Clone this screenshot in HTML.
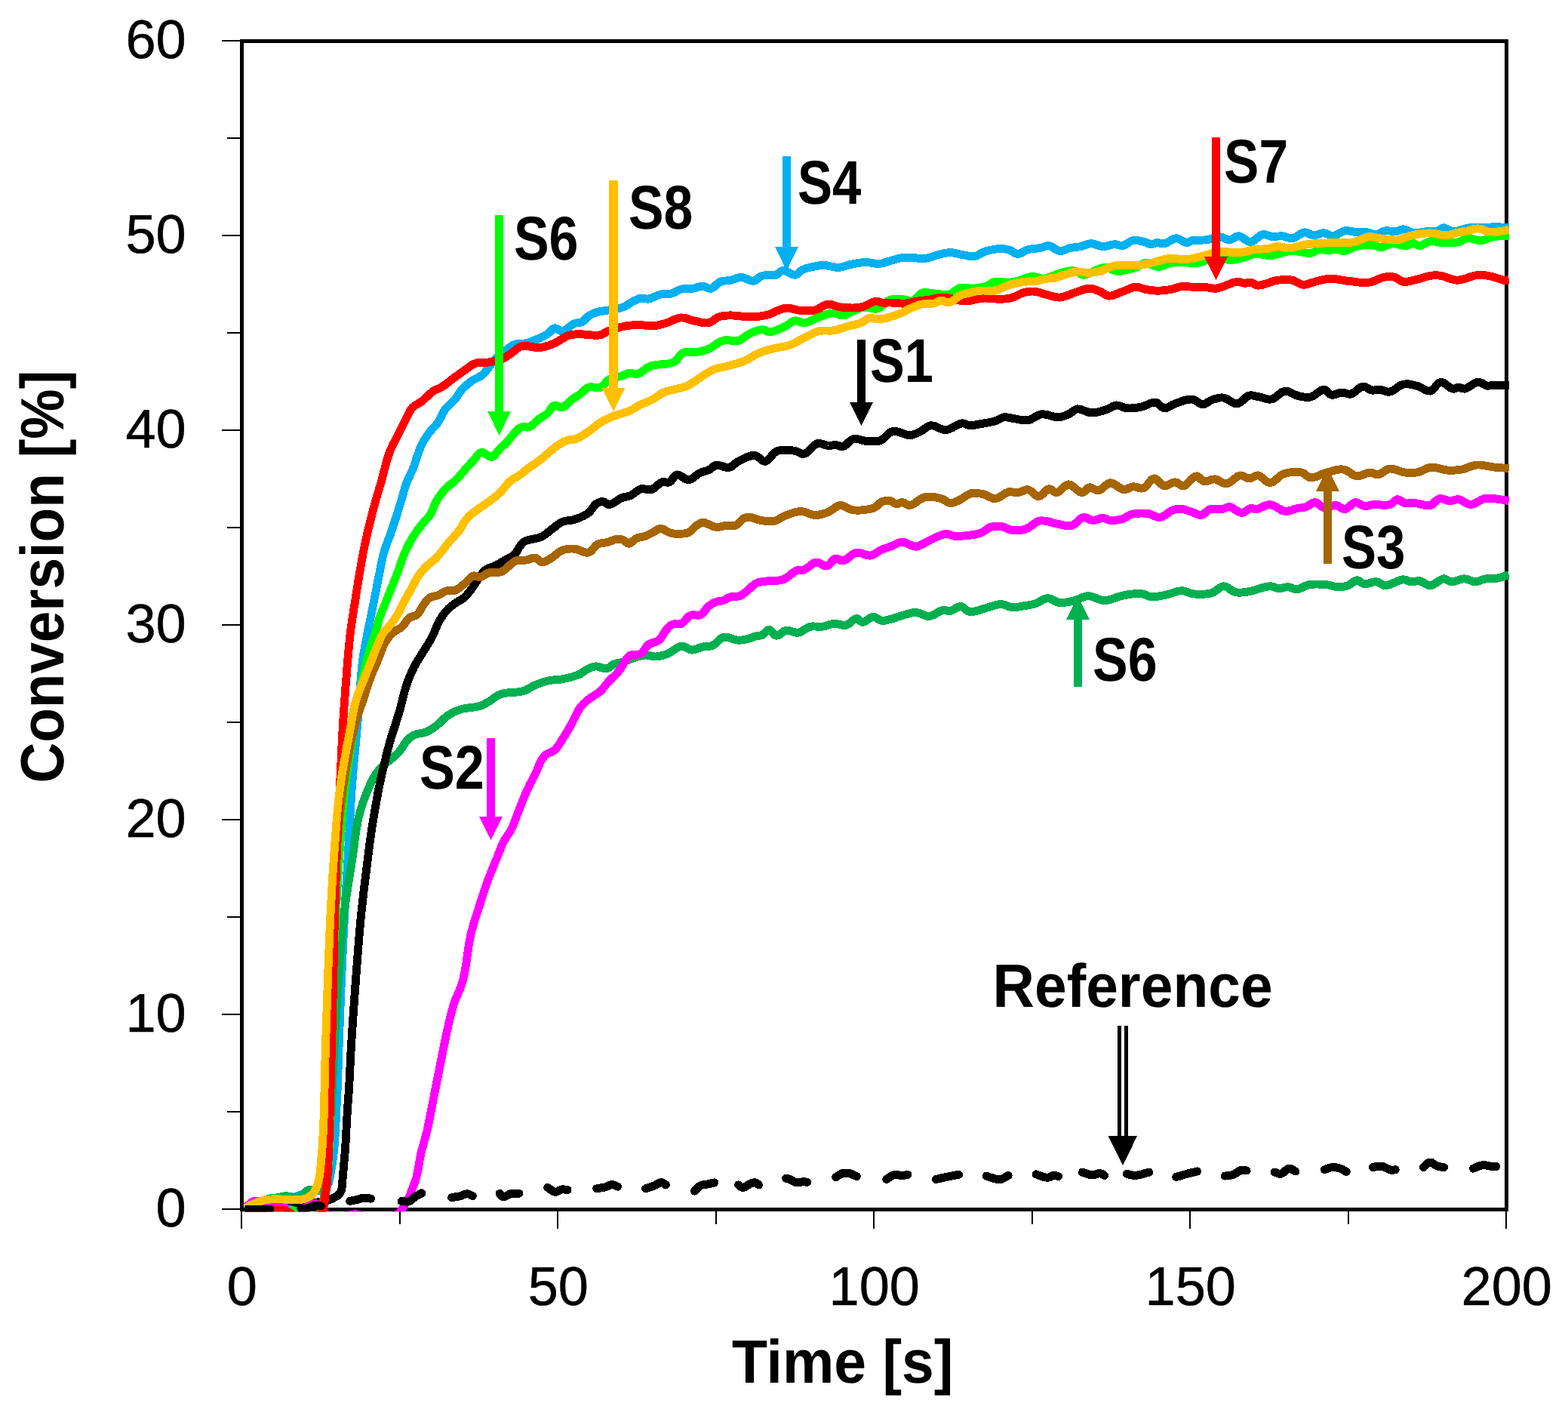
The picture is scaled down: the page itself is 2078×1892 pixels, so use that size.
<!DOCTYPE html>
<html lang="en">
<head>
<meta charset="utf-8">
<title>Conversion vs Time</title>
<style>
html,body{margin:0;padding:0;background:#fff;}
body{width:2078px;height:1892px;overflow:hidden;}
svg{display:block;}
text{font-family:"Liberation Sans",sans-serif;fill:#000;}
.b{font-weight:bold;}
</style>
</head>
<body>
<svg width="2078" height="1892" viewBox="0 0 2078 1892" shape-rendering="crispEdges">
<rect width="2078" height="1892" fill="#fff"/>
<defs><clipPath id="pc"><rect x="318" y="40" width="1682" height="1565.4"/></clipPath></defs>
<g stroke="#000" fill="none">
<rect x="320.5" y="54.5" width="1676.0" height="1548.0" stroke-width="5.0"/>
<path stroke-width="2" d="M294.0 1602.0H320.5M301.0 1473.0H320.5M294.0 1344.0H320.5M301.0 1215.0H320.5M294.0 1086.0H320.5M301.0 957.0H320.5M294.0 828.0H320.5M301.0 699.0H320.5M294.0 570.0H320.5M301.0 441.0H320.5M294.0 312.0H320.5M301.0 183.0H320.5M294.0 54.0H320.5M320.0 1602.5V1628.0M529.5 1602.5V1622.0M739.0 1602.5V1628.0M948.5 1602.5V1622.0M1158.0 1602.5V1628.0M1367.5 1602.5V1622.0M1577.0 1602.5V1628.0M1786.5 1602.5V1622.0M1996.0 1602.5V1628.0"/>
</g>
<g fill="none" stroke-width="10.9" stroke-linejoin="round" stroke-linecap="butt" clip-path="url(#pc)">
<polyline stroke="#00B0F0" points="326.8,1599.3 331.2,1598.4 335.6,1597.5 340.0,1596.6 344.4,1595.7 348.7,1594.8 352.7,1594.0 356.7,1593.2 360.6,1592.4 364.4,1591.6 368.0,1591.0 371.1,1590.5 374.1,1590.2 377.0,1589.9 379.7,1589.5 382.2,1589.0 383.9,1588.5 385.5,1587.8 387.0,1587.1 388.4,1586.4 390.0,1585.8 391.5,1585.3 393.1,1584.8 394.7,1584.4 396.3,1583.9 397.7,1583.5 398.8,1583.1 399.8,1582.7 400.8,1582.3 401.8,1581.9 402.9,1581.5 404.3,1581.1 405.8,1580.6 407.4,1580.1 409.0,1579.7 410.6,1579.3 412.3,1579.0 414.2,1578.8 416.0,1578.6 417.8,1578.4 419.6,1578.1 421.5,1577.7 423.4,1577.3 425.2,1576.8 427.0,1576.2 428.6,1575.5 430.0,1574.7 431.3,1573.7 432.5,1572.7 433.5,1571.6 434.5,1570.3 435.2,1568.9 435.7,1567.3 436.1,1565.6 436.4,1563.7 436.9,1561.5 438.0,1555.7 439.3,1548.5 440.5,1540.3 441.7,1531.8 442.7,1523.3 443.6,1513.0 444.3,1501.9 444.9,1490.7 445.4,1479.8 445.9,1470.0 446.2,1463.6 446.5,1457.8 446.8,1452.3 447.0,1446.5 447.3,1440.0 447.7,1430.0 448.0,1419.1 448.4,1407.6 448.8,1395.6 449.2,1383.3 449.8,1367.7 450.4,1351.2 451.0,1334.2 451.7,1317.0 452.4,1300.0 453.2,1282.7 454.0,1265.2 454.8,1247.7 455.7,1230.3 456.6,1213.0 457.5,1196.3 458.5,1179.8 459.5,1163.2 460.5,1146.7 461.5,1130.0 462.4,1112.7 463.3,1095.2 464.2,1077.7 465.2,1060.3 466.3,1043.0 467.6,1026.3 469.1,1009.6 470.7,993.1 472.2,976.5 473.7,960.0 475.0,942.9 476.3,925.2 477.5,907.8 478.8,891.7 480.2,877.9 481.1,871.0 482.1,864.9 483.1,859.4 484.1,853.9 485.2,848.2 486.3,842.2 487.5,836.3 488.7,830.3 489.9,824.4 491.1,818.4 492.3,812.5 493.5,806.5 494.7,800.6 495.9,794.6 497.1,788.7 498.3,782.7 499.4,776.7 500.6,770.7 501.8,764.8 503.0,758.9 504.1,753.2 505.2,747.5 506.4,741.9 507.6,736.4 509.0,731.1 510.4,726.6 512.0,722.2 513.6,717.9 515.3,713.7 516.9,709.3 518.5,704.6 520.1,699.9 521.7,695.1 523.3,690.3 524.8,685.5 526.5,680.3 528.1,675.1 529.7,669.8 531.3,664.6 532.8,659.7 534.0,655.5 535.1,651.5 536.2,647.6 537.4,643.7 538.7,639.8 540.4,635.8 542.3,631.8 544.2,627.8 546.0,623.9 547.7,620.1 548.8,617.0 549.8,614.1 550.7,611.2 551.6,608.3 552.6,605.4 553.7,602.2 554.8,599.0 555.9,595.8 557.2,592.7 558.6,589.5 560.3,586.3 562.2,583.0 564.2,579.8 566.3,576.7 568.5,573.7 570.8,570.8 573.2,568.1 575.7,565.4 578.1,562.7 580.4,559.8 582.5,556.3 584.4,552.6 586.2,548.8 588.2,545.2 590.3,541.9 592.6,539.3 595.0,536.9 597.5,534.7 599.9,532.4 602.2,530.0 604.3,527.3 606.2,524.5 608.0,521.6 610.0,518.8 612.1,516.1 614.7,513.5 617.4,511.0 620.2,508.6 623.1,506.3 626.0,504.2 628.8,502.5 631.8,501.0 634.7,499.5 637.5,498.0 639.9,496.3 641.8,494.5 643.3,492.5 644.8,490.5 646.3,488.4 647.9,486.3 649.7,484.0 651.6,481.6 653.6,479.1 655.6,476.7 657.8,474.4 660.0,472.3 662.4,470.3 664.8,468.3 667.2,466.4 669.7,464.5 672.0,462.7 674.3,461.0 676.6,459.3 679.0,457.8 681.6,456.6 684.6,455.8 687.7,455.5 691.0,455.4 694.3,455.1 697.5,454.6 700.7,453.7 704.0,452.5 707.2,451.3 710.3,450.0 713.3,448.7 715.9,447.5 718.3,446.4 720.7,445.3 723.0,444.0 725.2,442.7 727.3,441.0 729.3,439.1 731.2,437.1 733.1,435.6 735.2,434.8 737.1,435.0 739.0,436.0 740.9,437.3 743.0,438.4 745.1,438.7 748.1,437.7 751.3,435.6 754.7,433.0 757.9,430.5 761.0,428.8 763.1,428.2 765.1,427.9 767.1,427.8 769.0,427.5 770.9,426.8 772.8,425.6 774.6,423.9 776.3,422.1 778.1,420.4 780.0,418.9 781.9,417.7 783.9,416.6 785.9,415.6 787.9,414.7 789.9,413.9 791.8,413.4 793.6,413.0 795.5,412.7 797.6,412.4 799.8,411.9 804.4,411.2 809.7,410.4 815.4,409.5 820.9,408.4 825.6,407.0 828.8,405.6 831.7,403.9 834.4,402.1 837.0,400.5 839.5,399.0 841.6,398.0 843.6,397.1 845.5,396.2 847.5,395.5 849.4,395.1 851.4,395.1 853.3,395.4 855.2,395.8 857.3,396.1 859.4,396.1 862.3,395.3 865.5,394.0 868.8,392.5 872.0,391.1 875.2,390.1 878.1,389.7 880.9,389.6 883.6,389.7 886.4,389.6 889.1,389.1 891.9,388.2 894.7,386.9 897.4,385.4 900.1,384.1 903.0,383.2 906.1,382.7 909.4,382.5 912.6,382.5 915.8,382.5 918.9,382.2 921.4,381.6 923.8,380.8 926.1,380.1 928.4,379.5 930.8,379.2 933.2,379.6 935.6,380.5 938.0,381.5 940.4,382.2 942.7,382.2 945.1,381.1 947.4,379.2 949.7,376.9 952.1,374.8 954.6,373.3 957.2,372.5 960.0,372.1 962.8,371.9 965.7,371.7 968.5,371.3 971.3,370.5 974.0,369.4 976.8,368.4 979.6,367.6 982.4,367.3 985.5,367.9 988.8,369.2 992.1,370.8 995.3,372.0 998.3,372.3 1000.7,371.5 1003.0,370.0 1005.3,368.2 1007.6,366.5 1010.2,365.3 1013.5,364.8 1017.3,364.7 1021.1,364.9 1024.8,364.9 1028.0,364.3 1030.2,363.3 1032.1,361.8 1034.0,360.3 1035.8,359.0 1037.9,358.4 1040.9,358.9 1044.2,360.5 1047.6,362.4 1050.9,363.9 1053.8,364.3 1056.0,363.6 1057.9,362.2 1059.7,360.5 1061.6,358.7 1063.7,357.4 1066.3,356.3 1069.0,355.4 1071.9,354.7 1074.8,354.0 1077.6,353.4 1080.3,352.8 1083.0,352.3 1085.8,351.8 1088.6,351.5 1091.5,351.4 1095.3,351.8 1099.3,352.6 1103.4,353.5 1107.5,354.2 1111.3,354.4 1114.6,354.0 1117.7,353.2 1120.8,352.2 1124.0,351.3 1127.2,350.4 1131.1,349.7 1135.0,348.9 1139.1,348.2 1143.1,347.7 1147.1,347.5 1150.7,347.7 1154.4,348.2 1157.9,348.9 1161.5,349.4 1164.9,349.4 1168.0,349.0 1171.0,348.3 1174.0,347.3 1177.0,346.4 1180.0,345.5 1183.2,344.6 1186.4,343.7 1189.6,342.8 1192.7,342.0 1195.9,341.5 1198.7,341.3 1201.4,341.2 1204.2,341.3 1206.9,341.4 1209.8,341.5 1212.9,341.7 1216.0,342.1 1219.2,342.4 1222.4,342.6 1225.6,342.5 1229.2,341.9 1232.8,340.9 1236.4,339.7 1240.0,338.5 1243.5,337.5 1246.7,336.7 1249.9,335.9 1253.1,335.2 1256.2,334.8 1259.4,334.6 1262.5,334.8 1265.7,335.4 1268.9,336.1 1272.1,336.9 1275.2,337.5 1278.4,338.1 1281.6,338.8 1284.8,339.4 1288.0,339.7 1291.1,339.5 1294.3,338.7 1297.4,337.2 1300.5,335.5 1303.7,333.9 1307.0,332.6 1310.9,331.6 1315.0,330.8 1319.1,330.1 1323.1,329.7 1326.8,329.6 1329.4,329.7 1331.9,330.0 1334.2,330.4 1336.5,330.9 1338.7,331.6 1340.8,332.5 1342.7,333.8 1344.6,335.1 1346.6,336.1 1348.7,336.5 1351.2,336.1 1354.0,334.9 1356.8,333.3 1359.6,331.7 1362.5,330.6 1365.7,330.0 1368.9,329.6 1372.2,329.3 1375.4,329.0 1378.4,328.6 1380.9,328.0 1383.3,327.1 1385.6,326.3 1387.9,325.7 1390.3,325.6 1393.1,326.5 1395.8,328.2 1398.6,330.1 1401.4,331.7 1404.2,332.6 1406.9,332.4 1409.7,331.7 1412.5,330.6 1415.3,329.4 1418.1,328.6 1420.9,328.1 1423.6,327.8 1426.4,327.5 1429.2,327.1 1432.0,326.6 1434.8,325.8 1437.5,324.8 1440.3,323.8 1443.0,323.0 1445.9,322.7 1449.0,323.0 1452.1,324.0 1455.3,325.1 1458.5,326.1 1461.7,326.6 1465.0,326.4 1468.3,325.6 1471.5,324.7 1474.7,324.0 1477.6,323.7 1479.7,323.9 1481.7,324.5 1483.6,325.1 1485.5,325.6 1487.5,325.6 1490.2,324.8 1492.9,323.2 1495.7,321.3 1498.5,319.7 1501.4,318.7 1504.6,318.5 1507.9,318.7 1511.3,319.3 1514.5,320.0 1517.3,320.7 1519.1,321.3 1520.7,322.0 1522.2,322.8 1523.7,323.4 1525.2,323.7 1526.8,323.5 1528.4,323.1 1529.9,322.5 1531.5,322.0 1533.2,321.7 1535.1,321.7 1537.0,322.1 1538.9,322.5 1541.0,322.8 1543.1,322.7 1546.1,321.7 1549.3,319.9 1552.5,318.0 1555.8,316.4 1559.0,315.7 1561.9,316.3 1564.8,317.8 1567.7,319.6 1570.4,321.0 1572.9,321.7 1574.4,321.4 1575.7,320.8 1577.0,320.0 1578.4,319.3 1580.0,318.7 1583.3,318.3 1587.3,318.1 1591.6,318.1 1595.9,318.0 1599.8,317.7 1603.2,317.0 1606.4,315.9 1609.5,314.8 1612.6,314.0 1615.7,313.7 1618.6,314.2 1621.4,315.2 1624.2,316.4 1626.9,317.4 1629.6,317.7 1632.0,317.1 1634.4,315.8 1636.7,314.4 1639.1,313.2 1641.5,312.7 1644.6,313.7 1647.7,315.7 1651.0,318.0 1654.2,320.0 1657.4,320.7 1660.6,319.6 1663.8,317.3 1666.9,314.6 1670.1,312.1 1673.3,310.8 1676.0,310.7 1678.9,311.4 1681.7,312.3 1684.4,313.2 1687.1,313.7 1689.6,313.7 1691.9,313.4 1694.3,313.0 1696.6,312.8 1699.0,312.7 1701.8,313.2 1704.5,314.1 1707.3,315.0 1710.1,315.7 1712.9,315.7 1716.1,314.7 1719.3,312.7 1722.6,310.5 1725.7,308.7 1728.8,307.8 1731.3,308.1 1733.6,309.0 1735.9,310.2 1738.3,311.2 1740.7,311.7 1743.4,311.5 1746.2,310.7 1749.1,309.8 1751.9,309.0 1754.6,308.8 1757.0,309.3 1759.4,310.3 1761.7,311.5 1764.1,312.4 1766.5,312.7 1769.5,312.0 1772.7,310.4 1775.9,308.5 1779.1,306.8 1782.4,305.8 1785.5,305.7 1788.7,306.1 1791.9,306.7 1795.1,307.4 1798.3,307.8 1801.1,307.8 1803.9,307.7 1806.7,307.6 1809.5,307.6 1812.1,307.8 1814.6,308.3 1817.0,309.1 1819.4,310.0 1821.7,310.6 1824.0,310.8 1826.4,310.2 1828.8,309.1 1831.1,307.7 1833.5,306.5 1836.0,305.8 1838.7,305.7 1841.5,306.0 1844.4,306.4 1847.2,306.8 1849.8,306.8 1851.9,306.3 1853.9,305.5 1855.8,304.7 1857.7,304.0 1859.8,303.8 1862.4,304.3 1865.1,305.4 1867.9,306.8 1870.8,308.1 1873.7,308.8 1876.7,308.8 1879.9,308.5 1883.1,307.9 1886.3,307.2 1889.5,306.8 1892.8,306.6 1896.2,306.6 1899.5,306.5 1902.6,306.3 1905.4,305.8 1907.2,305.1 1908.7,304.1 1910.2,303.0 1911.7,302.2 1913.3,301.8 1915.5,302.3 1917.7,303.4 1920.1,304.8 1922.6,306.1 1925.2,306.8 1929.2,306.5 1933.5,305.5 1938.1,304.1 1942.6,302.7 1947.1,301.8 1951.1,301.6 1955.2,301.6 1959.3,301.7 1963.2,301.8 1966.9,301.8 1969.7,301.7 1972.2,301.4 1974.8,301.1 1977.3,300.9 1980.1,300.8 1983.8,300.8 1987.7,300.9 1991.8,301.1 1995.9,301.4 1999.9,301.6"/>
<polyline stroke="#00B050" points="326.8,1599.3 330.0,1598.8 333.3,1598.4 336.6,1597.9 339.6,1597.3 342.2,1596.4 343.8,1595.5 345.0,1594.4 346.2,1593.2 347.3,1592.1 348.7,1591.2 350.3,1590.4 352.1,1589.7 353.9,1589.0 355.8,1588.5 357.7,1588.0 359.7,1587.6 361.7,1587.3 363.8,1587.1 365.9,1587.0 368.0,1586.7 370.3,1586.3 372.6,1585.8 374.9,1585.3 377.2,1584.9 379.6,1584.8 382.5,1585.0 385.5,1585.6 388.5,1586.3 391.3,1586.7 393.8,1586.7 395.3,1586.3 396.6,1585.8 397.8,1585.1 399.0,1584.3 400.3,1583.5 401.8,1582.3 403.3,1580.8 404.8,1579.3 406.4,1578.0 408.0,1577.0 409.5,1576.6 411.0,1576.5 412.6,1576.6 414.1,1576.6 415.8,1576.4 417.8,1575.9 420.0,1575.4 422.1,1574.7 424.2,1573.9 426.1,1572.9 427.6,1571.8 429.1,1570.6 430.4,1569.3 431.6,1567.9 432.5,1566.4 433.1,1565.3 433.6,1564.2 433.9,1563.0 434.2,1561.7 434.5,1560.0 435.0,1554.7 435.4,1547.8 435.6,1539.9 435.9,1531.6 436.2,1523.3 436.8,1513.0 437.5,1502.0 438.2,1490.7 438.9,1479.8 439.4,1470.0 439.7,1463.6 439.8,1457.8 440.0,1452.3 440.2,1446.5 440.4,1440.0 440.8,1430.0 441.3,1419.1 441.8,1407.6 442.4,1395.6 443.1,1383.3 444.0,1367.7 445.0,1351.2 446.1,1334.2 447.3,1317.0 448.5,1300.0 449.7,1282.7 451.0,1265.2 452.3,1247.7 453.9,1230.3 455.7,1213.0 457.9,1195.6 460.6,1177.7 463.3,1160.2 465.9,1144.0 468.0,1130.0 469.0,1122.7 469.8,1116.1 470.6,1110.0 471.4,1104.4 472.2,1098.9 472.9,1094.9 473.6,1091.1 474.3,1087.5 475.0,1084.0 475.9,1080.4 476.9,1076.7 477.9,1073.0 479.1,1069.3 480.2,1065.6 481.5,1061.9 482.9,1058.1 484.3,1054.4 485.8,1050.6 487.3,1046.9 488.9,1043.3 490.4,1039.8 492.0,1036.4 493.7,1033.0 495.4,1029.7 497.2,1026.7 498.9,1024.3 500.7,1022.0 502.5,1019.8 504.4,1017.7 506.5,1015.6 509.0,1013.3 511.7,1011.1 514.6,1008.8 517.4,1006.6 520.0,1004.4 522.3,1002.3 524.6,1000.2 526.7,998.1 528.8,996.0 530.8,993.7 532.5,991.4 534.0,988.9 535.5,986.4 537.0,984.0 538.7,981.8 540.5,980.0 542.3,978.2 544.3,976.6 546.4,975.2 548.7,973.9 551.5,972.8 554.7,972.1 558.1,971.6 561.4,970.9 564.5,969.9 567.4,968.6 570.2,967.1 573.0,965.4 575.7,963.5 578.4,961.5 581.5,958.9 584.6,955.9 587.7,952.8 590.9,949.9 594.3,947.4 597.6,945.4 601.1,943.6 604.6,942.1 608.3,940.7 612.1,939.4 616.8,938.4 621.8,937.7 626.9,937.2 631.7,936.5 636.0,935.5 638.6,934.5 641.0,933.4 643.2,932.2 645.5,930.9 647.9,929.5 650.8,927.6 653.7,925.5 656.8,923.3 660.1,921.3 663.7,919.6 669.2,918.3 675.4,917.7 681.8,917.3 688.0,916.7 693.5,915.6 697.0,914.3 700.2,912.7 703.2,910.9 706.2,909.2 709.4,907.7 712.8,906.3 716.4,905.0 720.0,903.7 723.6,902.6 727.2,901.7 730.7,901.2 734.3,900.8 737.8,900.6 741.4,900.3 745.1,899.8 749.4,898.9 754.0,897.9 758.6,896.7 762.9,895.3 766.9,893.8 769.8,892.3 772.5,890.6 775.1,888.8 777.5,887.2 780.0,885.9 782.0,885.0 783.9,884.2 785.9,883.6 787.8,883.1 789.9,882.9 792.6,883.2 795.4,884.1 798.4,885.1 801.2,885.8 803.8,885.9 805.9,885.2 807.9,883.9 809.8,882.5 811.7,881.0 813.7,879.9 816.0,879.1 818.3,878.6 820.7,878.1 823.2,877.6 825.6,876.9 828.3,876.0 831.1,875.0 833.8,874.0 836.7,872.9 839.5,872.0 842.6,871.0 845.8,870.0 849.1,869.1 852.3,868.4 855.4,868.0 858.2,868.2 861.0,868.7 863.7,869.3 866.5,869.9 869.3,870.0 872.4,869.7 875.6,869.1 878.8,868.3 882.0,867.2 885.2,866.0 888.7,864.1 892.4,861.7 896.0,859.1 899.5,857.1 903.0,856.1 905.9,856.5 908.6,857.6 911.4,859.1 914.1,860.5 916.9,861.1 919.7,860.8 922.4,860.0 925.2,859.0 928.0,857.9 930.8,857.1 933.6,856.7 936.4,856.5 939.2,856.3 942.0,856.0 944.7,855.1 947.5,853.3 950.2,850.7 952.8,848.0 955.5,845.6 958.6,844.2 962.3,844.1 966.3,845.0 970.5,846.3 974.6,847.6 978.4,848.2 981.4,848.1 984.3,847.8 987.2,847.4 989.8,846.8 992.3,846.2 994.0,845.7 995.6,845.0 997.1,844.4 998.6,843.8 1000.2,843.2 1002.2,842.8 1004.2,842.5 1006.2,842.3 1008.2,841.9 1010.2,841.2 1012.0,839.9 1013.8,838.1 1015.6,836.3 1017.3,834.9 1019.1,834.3 1021.0,835.1 1022.9,837.0 1024.9,839.3 1026.9,841.3 1029.0,842.2 1031.4,841.7 1033.9,840.1 1036.5,838.1 1039.1,836.3 1041.9,835.3 1044.9,835.4 1048.1,836.2 1051.4,837.3 1054.6,838.1 1057.8,838.3 1061.0,837.3 1064.1,835.5 1067.3,833.4 1070.4,831.6 1073.7,830.3 1076.8,829.9 1080.0,830.0 1083.2,830.2 1086.4,830.4 1089.5,830.3 1092.7,829.7 1095.9,828.7 1099.0,827.7 1102.2,826.8 1105.4,826.3 1108.6,826.5 1111.8,827.2 1115.1,828.0 1118.2,828.5 1121.3,828.3 1124.3,827.0 1127.2,824.7 1130.0,822.2 1132.7,820.2 1135.2,819.4 1136.8,819.9 1138.4,821.1 1139.8,822.6 1141.4,823.8 1143.1,824.4 1145.6,823.7 1148.4,822.0 1151.3,820.0 1154.2,818.2 1157.0,817.4 1159.4,817.8 1161.8,819.0 1164.2,820.4 1166.5,821.7 1168.9,822.4 1171.1,822.4 1173.2,822.1 1175.4,821.6 1177.7,821.0 1180.0,820.4 1183.0,819.6 1186.1,818.6 1189.3,817.5 1192.6,816.4 1195.9,815.4 1199.4,814.4 1202.9,813.3 1206.5,812.4 1210.1,811.7 1213.7,811.5 1217.3,812.1 1220.9,813.4 1224.5,814.9 1228.0,816.1 1231.6,816.4 1235.3,815.5 1239.0,813.7 1242.7,811.5 1246.2,809.6 1249.4,808.5 1251.6,808.4 1253.5,808.7 1255.4,809.2 1257.3,809.5 1259.4,809.5 1262.0,808.6 1264.9,807.0 1267.7,805.3 1270.5,804.0 1273.3,803.5 1275.6,804.3 1277.9,805.9 1280.1,807.8 1282.5,809.5 1285.2,810.5 1289.1,810.5 1293.4,809.6 1298.0,808.3 1302.6,806.8 1307.0,805.5 1311.1,804.4 1315.2,803.0 1319.2,801.8 1323.1,800.9 1326.8,800.6 1329.7,801.0 1332.5,801.9 1335.1,803.0 1337.8,804.0 1340.7,804.5 1344.2,804.6 1347.8,804.3 1351.5,803.8 1355.1,803.1 1358.6,802.5 1361.5,802.1 1364.2,801.6 1367.0,801.0 1369.7,800.4 1372.5,799.6 1375.6,798.2 1378.8,796.4 1381.9,794.6 1385.1,793.2 1388.3,792.6 1391.5,793.1 1394.6,794.5 1397.7,796.2 1400.9,797.7 1404.2,798.6 1408.0,798.7 1412.0,798.2 1416.1,797.5 1420.1,796.6 1424.0,795.6 1427.7,794.4 1431.2,792.9 1434.7,791.4 1438.2,790.2 1441.9,789.6 1446.1,790.2 1450.4,791.7 1454.8,793.4 1459.2,795.0 1463.7,795.6 1468.8,795.0 1473.9,793.6 1479.1,791.7 1484.4,789.9 1489.5,788.7 1494.5,787.8 1499.5,787.1 1504.5,786.6 1509.1,786.4 1513.3,786.7 1516.0,787.3 1518.3,788.2 1520.5,789.2 1522.8,790.1 1525.2,790.6 1528.5,790.8 1532.0,790.5 1535.6,790.0 1539.3,789.3 1543.1,788.7 1547.8,787.5 1552.7,785.9 1557.7,784.3 1562.6,783.1 1566.9,782.7 1569.7,783.1 1572.2,784.0 1574.6,785.0 1577.1,786.0 1580.0,786.7 1584.7,787.1 1590.0,787.3 1595.6,787.2 1601.0,786.7 1605.8,785.7 1609.3,784.1 1612.5,781.8 1615.6,779.4 1618.6,777.6 1621.7,776.7 1624.8,777.4 1627.9,779.1 1631.0,781.4 1634.2,783.4 1637.5,784.7 1640.9,785.1 1644.4,785.1 1647.9,784.8 1651.6,784.3 1655.4,783.7 1660.8,782.5 1666.6,780.7 1672.6,778.8 1678.3,777.3 1683.2,776.7 1685.9,777.0 1688.3,777.7 1690.5,778.6 1692.8,779.4 1695.1,779.7 1697.5,779.6 1699.8,779.0 1702.2,778.4 1704.6,777.9 1707.0,777.7 1709.3,778.1 1711.7,778.9 1714.0,779.8 1716.4,780.5 1718.9,780.7 1721.9,780.1 1724.9,778.8 1728.0,777.2 1731.3,775.8 1734.8,774.8 1739.3,774.2 1744.2,774.0 1749.3,774.1 1754.1,774.4 1758.6,774.8 1761.6,775.3 1764.4,776.0 1767.1,776.8 1769.7,777.4 1772.5,777.7 1775.3,777.7 1778.1,777.5 1780.9,777.1 1783.7,776.6 1786.3,775.8 1788.9,774.5 1791.3,772.7 1793.6,770.9 1796.0,769.4 1798.3,768.8 1800.2,769.2 1802.1,770.4 1804.0,771.8 1806.0,773.0 1808.2,773.8 1811.1,773.7 1814.3,772.9 1817.7,771.8 1821.0,771.0 1824.0,770.8 1826.5,771.5 1828.8,772.7 1831.0,774.1 1833.3,775.2 1836.0,775.8 1840.3,775.0 1845.4,773.1 1850.6,770.7 1855.5,768.7 1859.8,767.8 1862.0,768.1 1864.0,768.7 1865.8,769.6 1867.7,770.3 1869.7,770.8 1872.0,770.8 1874.3,770.4 1876.7,770.0 1879.2,769.7 1881.6,769.8 1884.3,770.7 1887.0,772.3 1889.8,773.9 1892.6,775.3 1895.5,775.8 1899.0,774.8 1902.7,772.6 1906.5,770.0 1910.0,767.8 1913.3,766.8 1915.4,767.1 1917.3,768.1 1919.2,769.2 1921.1,770.2 1923.3,770.8 1926.5,770.5 1930.1,769.5 1933.9,768.3 1937.6,767.2 1941.1,766.8 1944.0,767.3 1946.8,768.3 1949.5,769.4 1952.3,770.4 1955.0,770.8 1957.8,770.5 1960.5,769.6 1963.3,768.5 1966.1,767.5 1968.9,766.8 1971.7,766.6 1974.5,766.6 1977.4,766.6 1980.2,766.6 1982.8,766.4 1984.9,766.0 1987.0,765.5 1988.9,765.0 1990.8,764.4 1992.7,763.8 1994.2,763.4 1995.6,763.0 1997.0,762.6 1998.4,762.3 1999.8,761.9"/>
<polyline stroke="#000000" points="324.0,1602.0 328.2,1601.8 332.4,1601.7 336.6,1601.5 340.8,1601.3 345.0,1601.0 349.1,1600.5 353.2,1600.0 357.2,1599.3 361.2,1598.7 365.0,1598.0 368.1,1597.4 371.0,1596.7 373.9,1596.1 376.9,1595.5 380.0,1595.0 383.8,1594.6 387.8,1594.4 391.9,1594.3 396.0,1594.2 400.0,1594.0 404.1,1593.8 408.3,1593.7 412.5,1593.6 416.4,1593.3 420.0,1593.0 422.3,1592.7 424.3,1592.3 426.3,1591.8 428.2,1591.4 430.0,1591.0 431.5,1590.7 432.9,1590.5 434.3,1590.2 435.7,1589.9 437.0,1589.5 438.3,1589.0 439.7,1588.4 441.0,1587.7 442.3,1587.0 443.5,1586.3 444.7,1585.6 445.9,1585.0 447.1,1584.3 448.1,1583.5 449.1,1582.6 449.9,1581.6 450.6,1580.6 451.3,1579.4 451.8,1578.2 452.3,1577.0 452.7,1575.6 453.0,1574.2 453.2,1572.7 453.3,1571.2 453.5,1569.6 453.7,1567.9 453.8,1566.3 453.9,1564.6 454.0,1562.7 454.2,1560.4 454.7,1554.7 455.3,1547.7 456.0,1539.8 456.8,1531.5 457.4,1523.3 458.1,1513.0 458.7,1501.9 459.3,1490.7 459.9,1479.8 460.5,1470.0 460.9,1463.6 461.4,1457.8 461.8,1452.3 462.2,1446.5 462.6,1440.0 463.2,1430.0 463.7,1419.1 464.3,1407.6 464.9,1395.6 465.6,1383.3 466.6,1367.7 467.7,1351.2 468.9,1334.2 470.1,1317.0 471.4,1300.0 472.7,1282.7 474.0,1265.2 475.4,1247.7 476.9,1230.3 478.5,1213.0 480.4,1195.6 482.4,1177.7 484.6,1160.2 486.6,1144.0 488.4,1130.0 489.3,1122.8 490.1,1116.4 490.9,1110.5 491.7,1104.8 492.6,1098.9 493.5,1093.2 494.4,1087.7 495.3,1082.1 496.2,1076.6 497.2,1071.1 498.2,1065.5 499.2,1059.8 500.2,1054.2 501.2,1048.7 502.3,1043.3 503.3,1038.5 504.3,1033.9 505.3,1029.3 506.3,1024.8 507.4,1020.2 508.5,1015.6 509.6,1010.9 510.7,1006.3 511.8,1001.6 513.0,997.0 514.2,992.3 515.5,987.5 516.8,982.7 518.1,978.1 519.4,973.9 520.3,970.9 521.2,968.2 522.1,965.6 523.0,962.9 524.0,960.0 525.3,955.9 526.6,951.5 528.0,947.0 529.4,942.3 530.8,937.5 532.3,931.7 533.8,925.7 535.3,919.5 536.9,913.5 538.7,907.7 540.5,902.7 542.4,897.8 544.4,893.0 546.5,888.4 548.7,883.9 550.9,879.8 553.2,875.8 555.7,871.9 558.1,868.0 560.6,864.0 563.0,860.1 565.4,856.2 567.9,852.3 570.2,848.3 572.5,844.2 574.6,839.9 576.5,835.3 578.4,830.8 580.3,826.4 582.4,822.4 584.2,819.3 586.1,816.4 588.1,813.6 590.1,811.0 592.3,808.5 594.5,806.2 596.9,804.1 599.4,802.2 601.8,800.3 604.2,798.6 606.2,797.3 608.2,796.2 610.2,795.2 612.2,794.1 614.1,792.6 616.6,790.3 619.1,787.6 621.5,784.6 623.9,781.6 626.0,778.7 627.7,776.3 629.3,773.9 630.8,771.5 632.3,769.2 634.0,766.8 635.8,764.3 637.6,761.7 639.5,759.2 641.6,756.9 643.9,754.9 646.4,753.4 649.3,752.2 652.2,751.1 655.1,750.1 657.8,749.0 659.9,747.8 661.8,746.7 663.7,745.5 665.6,744.3 667.7,743.0 670.4,741.6 673.4,740.1 676.3,738.6 679.1,737.0 681.6,735.1 683.5,732.9 685.1,730.4 686.6,727.8 688.0,725.3 689.5,723.2 690.6,721.8 691.6,720.5 692.7,719.3 693.9,718.3 695.5,717.2 699.0,715.8 703.4,714.8 708.3,713.8 713.1,712.8 717.3,711.3 720.4,709.6 723.2,707.6 725.9,705.5 728.5,703.4 731.2,701.3 733.9,699.3 736.6,697.0 739.3,694.9 742.1,693.0 745.1,691.4 748.1,690.5 751.2,690.0 754.4,689.7 757.7,689.2 761.0,688.5 764.8,687.1 768.9,685.6 772.9,683.8 776.7,681.7 780.0,679.5 782.3,677.2 784.3,674.6 786.1,671.9 787.9,669.5 789.9,667.6 791.6,666.6 793.4,665.7 795.2,665.1 797.1,664.7 798.8,664.6 800.6,665.1 802.3,666.1 804.1,667.3 805.8,668.3 807.8,668.6 810.7,667.8 813.9,666.0 817.2,663.6 820.5,661.4 823.7,659.7 826.1,658.9 828.5,658.4 830.8,658.0 833.2,657.5 835.6,656.7 838.3,655.1 841.0,653.1 843.8,650.9 846.6,649.0 849.4,647.8 852.2,647.6 855.0,648.0 857.8,648.6 860.6,649.0 863.3,648.8 866.2,647.3 869.0,645.1 871.8,642.6 874.5,640.3 877.2,638.8 879.3,638.6 881.3,638.7 883.3,639.1 885.3,639.2 887.1,638.8 889.2,637.3 891.1,634.9 892.9,632.3 894.8,630.1 897.1,628.9 899.9,629.4 903.1,631.1 906.5,633.4 909.8,635.2 912.9,635.9 915.8,635.0 918.6,633.2 921.3,631.0 924.0,628.7 926.8,626.9 929.6,625.8 932.5,624.8 935.5,624.0 938.2,623.1 940.7,622.0 942.4,620.8 943.9,619.5 945.3,618.2 946.8,617.0 948.7,616.3 951.8,616.3 955.4,617.2 959.3,618.4 963.1,619.3 966.5,619.3 969.1,618.3 971.3,616.8 973.5,614.9 975.8,613.0 978.4,611.3 982.4,609.3 986.9,607.1 991.6,605.1 996.1,603.7 1000.2,603.4 1003.3,604.5 1006.1,606.5 1008.8,608.9 1011.4,610.7 1014.1,611.3 1017.2,609.9 1020.2,606.9 1023.2,603.2 1026.4,599.8 1030.0,597.5 1034.4,596.4 1039.4,596.1 1044.6,596.3 1049.5,596.8 1053.8,597.5 1056.5,598.2 1058.8,599.4 1061.1,600.6 1063.3,601.4 1065.7,601.4 1069.2,599.7 1072.7,596.5 1076.4,592.7 1080.0,589.4 1083.6,587.5 1086.4,587.4 1089.3,588.1 1092.1,589.1 1094.8,590.0 1097.5,590.5 1099.5,590.5 1101.5,590.2 1103.5,589.9 1105.4,589.6 1107.4,589.5 1109.4,589.9 1111.3,590.5 1113.3,591.2 1115.3,591.6 1117.3,591.5 1120.0,590.2 1122.6,588.0 1125.3,585.3 1128.2,583.0 1131.2,581.6 1134.5,581.4 1138.1,582.0 1141.7,583.0 1145.4,584.0 1149.0,584.6 1152.7,584.8 1156.4,584.9 1160.1,584.9 1163.6,584.5 1166.9,583.6 1169.8,581.8 1172.5,579.4 1175.1,576.7 1177.6,574.3 1180.0,572.7 1181.6,572.1 1183.1,571.7 1184.6,571.6 1186.2,571.6 1187.9,571.7 1191.1,572.3 1194.7,573.6 1198.5,575.1 1202.3,576.2 1205.8,576.6 1208.7,576.2 1211.5,575.4 1214.3,574.3 1217.0,573.0 1219.7,571.7 1222.4,570.1 1225.1,568.1 1227.8,566.2 1230.6,564.6 1233.6,563.7 1237.3,564.1 1241.2,565.6 1245.2,567.5 1249.3,569.1 1253.4,569.7 1257.9,568.6 1262.5,566.5 1267.1,563.9 1271.4,561.8 1275.2,560.8 1277.4,561.0 1279.4,561.6 1281.2,562.5 1283.1,563.3 1285.2,563.7 1287.7,563.7 1290.4,563.4 1293.2,562.9 1296.1,562.3 1299.0,561.7 1302.9,561.1 1307.0,560.4 1311.2,559.6 1315.2,558.8 1318.9,557.8 1321.5,556.8 1323.8,555.6 1326.1,554.4 1328.4,553.4 1330.8,552.8 1333.4,552.8 1336.2,553.1 1338.9,553.7 1341.8,554.3 1344.7,554.8 1348.1,555.4 1351.7,556.1 1355.3,556.7 1359.0,557.0 1362.5,556.8 1366.1,555.7 1369.6,553.8 1373.1,551.7 1376.7,549.9 1380.4,548.8 1384.7,549.0 1389.2,550.0 1393.7,551.3 1398.1,552.4 1402.2,552.8 1405.2,552.5 1408.1,551.8 1410.8,551.0 1413.5,549.9 1416.1,548.8 1418.5,547.5 1420.8,545.8 1423.1,544.1 1425.5,542.7 1428.0,541.9 1431.3,542.1 1434.8,543.3 1438.4,544.8 1442.2,546.2 1445.9,546.9 1449.8,546.7 1453.9,546.1 1458.0,545.2 1462.0,544.0 1465.7,542.9 1468.7,541.7 1471.5,540.2 1474.2,538.7 1476.9,537.5 1479.6,536.9 1482.3,537.2 1485.0,538.1 1487.7,539.2 1490.5,540.3 1493.5,540.9 1497.2,541.0 1501.2,540.8 1505.3,540.4 1509.4,539.7 1513.3,538.9 1517.1,537.7 1520.8,536.1 1524.4,534.4 1527.9,533.2 1531.2,533.0 1533.8,534.0 1536.1,535.9 1538.4,538.1 1540.7,540.0 1543.1,540.9 1545.7,540.6 1548.3,539.5 1551.1,538.0 1553.9,536.3 1557.0,535.0 1561.3,533.4 1566.1,531.7 1571.0,530.1 1575.7,529.1 1580.0,529.0 1583.1,529.9 1585.9,531.7 1588.6,533.7 1591.2,535.3 1593.9,536.0 1596.3,535.5 1598.6,534.3 1600.9,532.7 1603.3,531.2 1605.8,530.0 1608.8,529.0 1611.9,528.1 1615.2,527.3 1618.4,526.9 1621.7,527.0 1625.2,528.2 1628.9,530.3 1632.5,532.6 1636.1,534.4 1639.5,535.0 1642.8,533.7 1646.0,531.3 1649.1,528.3 1652.2,525.6 1655.4,524.0 1658.1,523.8 1660.9,524.1 1663.7,524.7 1666.4,525.4 1669.3,526.0 1672.4,526.8 1675.6,527.7 1678.8,528.6 1682.0,529.2 1685.2,529.0 1688.7,527.5 1692.3,524.9 1695.9,521.9 1699.5,519.3 1703.0,518.1 1706.2,518.4 1709.3,519.6 1712.4,521.2 1715.6,522.9 1718.9,524.0 1722.4,524.9 1726.0,525.7 1729.6,526.2 1733.2,526.4 1736.7,526.0 1740.5,524.5 1744.2,521.9 1747.9,519.1 1751.4,516.9 1754.6,516.1 1756.8,516.8 1758.7,518.4 1760.5,520.3 1762.4,522.1 1764.5,523.1 1767.1,523.1 1769.9,522.4 1772.8,521.4 1775.6,520.5 1778.4,520.1 1780.8,520.3 1783.2,521.0 1785.5,521.7 1787.9,522.2 1790.3,522.1 1793.4,520.7 1796.7,518.3 1799.9,515.5 1803.1,513.2 1806.2,512.1 1808.7,512.5 1811.1,513.6 1813.4,515.0 1815.8,516.3 1818.1,517.1 1820.1,517.2 1822.0,516.9 1824.0,516.5 1825.9,516.2 1828.0,516.1 1830.6,516.6 1833.4,517.5 1836.2,518.4 1839.0,519.1 1841.9,519.1 1845.4,517.8 1848.9,515.6 1852.5,512.9 1856.1,510.6 1859.8,509.2 1863.3,508.8 1866.9,508.9 1870.5,509.5 1874.1,510.3 1877.6,511.2 1881.3,512.5 1885.0,514.5 1888.6,516.5 1892.2,517.9 1895.5,518.1 1898.4,516.6 1901.2,513.7 1903.8,510.3 1906.5,507.5 1909.4,506.2 1912.5,506.9 1915.8,508.9 1919.1,511.6 1922.3,513.9 1925.2,515.1 1927.0,515.1 1928.6,514.6 1930.1,513.9 1931.6,513.4 1933.2,513.1 1934.7,513.4 1936.2,513.9 1937.7,514.6 1939.3,515.0 1941.1,515.1 1944.3,514.0 1947.9,511.8 1951.7,509.3 1955.5,507.1 1959.0,506.2 1961.5,506.6 1963.9,507.7 1966.3,509.1 1968.6,510.4 1970.9,511.2 1972.7,511.2 1974.4,511.0 1976.1,510.7 1978.0,510.4 1980.0,510.2 1983.5,510.1 1987.4,510.2 1991.5,510.3 1995.8,510.4 1999.8,510.6"/>
<polyline stroke="#FF00FF" points="326.8,1598.7 328.5,1597.1 330.3,1595.5 332.0,1593.9 333.9,1592.5 335.8,1591.6 337.8,1591.2 339.8,1591.2 342.0,1591.4 344.1,1591.8 346.1,1592.2 347.9,1592.8 349.7,1593.4 351.4,1594.2 353.2,1594.9 355.1,1595.5 357.6,1595.8 360.1,1596.0 362.8,1596.1 365.4,1596.3 368.0,1596.8 370.6,1597.5 373.2,1598.4 375.8,1599.4 378.3,1600.4 380.9,1601.3 383.5,1602.1 386.1,1603.1 388.7,1603.9 391.3,1604.4 393.8,1604.5 396.5,1603.9 399.1,1602.8 401.8,1601.4 404.3,1600.0 406.7,1598.7 408.7,1597.6 410.5,1596.4 412.3,1595.3 414.0,1594.5 415.8,1594.2 417.4,1594.5 418.9,1595.2 420.5,1596.2 422.0,1597.4 423.5,1598.7 425.2,1600.5 426.8,1602.8 428.5,1605.2 430.3,1607.3 432.5,1609.0 435.8,1610.3 439.6,1611.1 443.7,1611.5 447.8,1611.6 451.9,1611.6 455.8,1611.3 459.8,1610.5 463.8,1609.6 467.6,1609.0 471.2,1608.7 473.9,1609.1 476.3,1609.7 478.6,1610.4 481.2,1611.1 484.1,1611.6 489.9,1612.0 496.7,1612.3 503.9,1612.4 510.7,1612.1 516.3,1611.6 519.1,1611.1 521.6,1610.6 523.9,1610.0 526.0,1609.2 528.0,1608.0 529.8,1606.3 531.4,1604.3 532.9,1602.0 534.3,1599.7 535.7,1597.4 537.1,1595.2 538.4,1592.9 539.7,1590.6 541.0,1588.2 542.1,1585.8 543.3,1583.3 544.3,1580.7 545.3,1578.1 546.3,1575.5 547.3,1572.9 548.2,1570.4 549.2,1568.0 550.1,1565.6 550.9,1563.0 551.8,1560.0 553.1,1554.5 554.2,1548.3 555.4,1541.5 556.6,1534.7 557.9,1528.2 559.4,1522.3 561.0,1516.6 562.6,1510.8 564.3,1504.8 565.9,1498.4 567.9,1489.2 569.9,1479.2 571.9,1468.9 573.9,1458.6 575.8,1448.8 577.4,1440.6 579.0,1432.6 580.6,1424.8 582.2,1417.0 583.7,1409.1 585.3,1401.2 586.8,1393.2 588.4,1385.3 590.0,1377.4 591.7,1369.4 593.5,1361.4 595.3,1353.2 597.3,1345.2 599.4,1337.3 601.6,1329.8 603.8,1323.7 606.2,1318.1 608.6,1312.6 611.0,1306.7 613.1,1300.1 615.7,1288.9 617.8,1276.2 619.7,1262.8 621.7,1249.7 624.0,1237.8 626.3,1229.1 628.6,1220.9 631.1,1213.1 633.6,1205.5 636.0,1198.1 637.9,1191.9 639.9,1185.9 641.8,1180.0 643.8,1174.2 645.9,1168.3 648.1,1162.3 650.5,1156.2 653.0,1150.2 655.4,1144.3 657.8,1138.6 659.8,1133.5 661.7,1128.6 663.6,1123.8 665.6,1119.1 667.7,1114.8 669.6,1111.4 671.7,1108.2 673.8,1105.2 675.8,1102.2 677.6,1098.9 679.4,1095.2 680.9,1091.4 682.4,1087.4 683.9,1083.3 685.6,1079.0 687.8,1073.4 690.1,1067.4 692.5,1061.2 695.0,1055.1 697.5,1049.3 699.8,1044.3 702.1,1039.5 704.6,1034.8 707.0,1030.2 709.4,1025.5 711.6,1020.5 713.8,1015.2 716.0,1010.1 718.5,1005.5 721.3,1001.7 723.9,999.6 726.7,998.1 729.7,996.9 732.6,995.5 735.2,993.7 737.4,991.4 739.4,988.7 741.3,985.9 743.1,982.9 745.1,979.8 747.4,976.2 749.8,972.3 752.2,968.3 754.6,964.2 757.0,960.1 759.4,955.5 761.7,950.7 764.0,945.9 766.4,941.4 768.9,937.5 771.0,934.9 773.1,932.6 775.3,930.6 777.6,928.6 780.0,926.5 783.0,924.3 786.3,922.2 789.7,920.1 793.0,918.0 795.9,915.6 798.1,913.4 800.0,911.0 801.9,908.6 803.7,906.2 805.8,903.7 808.4,901.0 811.3,898.3 814.3,895.6 817.1,892.8 819.7,889.8 821.9,886.7 824.0,883.3 825.9,879.8 827.8,876.6 829.6,874.0 830.8,872.5 831.8,871.1 832.9,869.9 834.1,868.9 835.6,868.0 838.0,867.4 840.8,867.2 843.9,867.2 846.8,866.9 849.4,866.0 851.7,864.2 853.6,861.7 855.3,858.9 857.2,856.3 859.4,854.1 862.0,852.7 864.8,851.7 867.8,850.8 870.7,849.7 873.3,848.2 875.6,845.8 877.6,842.9 879.4,839.8 881.3,836.8 883.2,834.3 884.7,832.6 886.2,831.0 887.7,829.5 889.3,828.3 891.1,827.3 893.3,826.8 895.7,826.8 898.2,827.0 900.7,826.9 903.0,826.3 905.5,824.7 907.8,822.2 910.0,819.6 912.4,817.1 914.9,815.4 917.6,814.8 920.5,814.9 923.4,815.1 926.3,815.1 928.8,814.4 931.1,812.8 933.0,810.6 934.9,808.1 936.7,805.6 938.7,803.5 940.6,802.1 942.6,800.7 944.6,799.5 946.6,798.5 948.7,797.6 950.6,797.0 952.6,796.7 954.6,796.4 956.6,796.1 958.6,795.6 960.6,794.7 962.5,793.6 964.4,792.5 966.4,791.4 968.5,790.6 970.8,790.3 973.2,790.2 975.7,790.3 978.1,790.2 980.4,789.6 982.5,788.7 984.5,787.4 986.4,785.9 988.3,784.3 990.3,782.7 992.6,780.7 994.9,778.6 997.2,776.4 999.6,774.4 1002.2,772.8 1005.1,771.7 1008.2,771.0 1011.4,770.6 1014.7,770.2 1018.1,769.8 1022.0,769.5 1026.0,769.4 1030.1,769.2 1034.1,768.8 1037.9,767.8 1041.7,765.9 1045.5,763.2 1049.1,760.3 1052.5,757.7 1055.8,755.9 1057.9,755.4 1059.8,755.4 1061.7,755.4 1063.7,755.4 1065.7,754.9 1068.7,753.3 1071.9,750.9 1075.1,748.3 1078.4,746.1 1081.6,745.0 1084.4,745.4 1087.3,746.7 1090.1,748.4 1092.8,749.7 1095.5,750.0 1098.0,748.7 1100.4,746.4 1102.7,743.7 1105.0,741.3 1107.4,740.0 1109.3,740.1 1111.2,740.9 1113.2,742.0 1115.2,742.8 1117.3,743.0 1120.6,741.7 1124.1,739.2 1127.7,736.2 1131.4,733.6 1135.2,732.1 1138.7,732.2 1142.3,733.3 1145.9,734.7 1149.5,735.8 1153.0,736.1 1156.3,735.2 1159.6,733.6 1162.8,731.6 1165.9,729.7 1168.9,728.1 1171.2,727.2 1173.4,726.4 1175.5,725.7 1177.7,725.0 1180.0,724.2 1183.0,722.9 1186.1,721.3 1189.3,719.8 1192.6,718.7 1195.9,718.2 1199.4,718.8 1202.9,720.3 1206.6,722.2 1210.2,723.6 1213.7,724.2 1217.3,723.5 1220.8,722.0 1224.3,720.1 1227.9,718.1 1231.6,716.2 1235.9,714.2 1240.4,711.9 1245.0,709.8 1249.4,708.1 1253.4,707.3 1255.9,707.5 1258.1,708.1 1260.3,709.0 1262.6,709.8 1265.3,710.3 1271.2,710.3 1278.3,709.9 1285.9,709.1 1293.0,707.9 1299.0,706.3 1302.3,704.9 1305.1,703.1 1307.7,701.2 1310.2,699.6 1312.9,698.4 1315.7,697.7 1318.4,697.3 1321.3,697.1 1324.1,697.1 1326.8,697.4 1329.6,698.1 1332.3,699.2 1335.0,700.5 1337.8,701.6 1340.7,702.3 1344.1,702.7 1347.7,702.9 1351.4,702.7 1355.0,702.2 1358.6,701.3 1362.3,699.6 1366.0,697.1 1369.7,694.4 1373.1,692.0 1376.4,690.4 1378.5,690.0 1380.5,689.9 1382.4,690.0 1384.3,690.2 1386.3,690.4 1388.6,690.8 1390.9,691.4 1393.2,692.1 1395.6,692.8 1398.3,693.4 1402.3,694.3 1406.7,695.4 1411.4,696.3 1415.9,696.8 1420.1,696.4 1423.6,694.8 1426.8,692.1 1429.9,689.2 1432.9,686.7 1436.0,685.5 1438.4,685.6 1440.7,686.6 1443.1,687.8 1445.4,688.9 1447.9,689.4 1450.6,689.2 1453.4,688.5 1456.3,687.5 1459.1,686.7 1461.7,686.5 1463.8,686.8 1465.7,687.5 1467.6,688.3 1469.5,689.0 1471.7,689.4 1474.6,689.5 1477.9,689.3 1481.2,688.9 1484.5,688.3 1487.5,687.5 1490.0,686.5 1492.3,685.1 1494.5,683.8 1496.8,682.5 1499.4,681.5 1503.4,680.7 1507.8,680.2 1512.5,680.0 1517.0,680.1 1521.3,680.5 1524.6,681.4 1527.8,682.7 1530.9,684.2 1534.0,685.2 1537.1,685.5 1540.7,684.4 1544.4,682.2 1548.0,679.6 1551.6,677.2 1555.0,675.6 1557.5,674.9 1559.9,674.5 1562.2,674.4 1564.5,674.4 1566.9,674.6 1569.5,675.0 1572.1,675.8 1574.8,676.7 1577.4,677.6 1580.0,678.5 1582.4,679.5 1584.8,680.6 1587.2,681.7 1589.6,682.4 1591.9,682.5 1594.3,681.6 1596.6,679.9 1598.9,677.8 1601.2,675.9 1603.8,674.6 1606.8,674.1 1610.1,674.1 1613.5,674.4 1616.7,674.7 1619.7,674.6 1621.8,674.0 1623.7,673.2 1625.6,672.3 1627.5,671.7 1629.6,671.6 1632.6,672.6 1635.8,674.6 1639.1,676.8 1642.4,678.7 1645.5,679.5 1648.0,679.0 1650.5,677.6 1652.8,675.9 1655.1,674.4 1657.4,673.6 1659.0,673.5 1660.5,673.8 1662.0,674.2 1663.6,674.5 1665.3,674.6 1668.4,673.7 1671.9,672.2 1675.7,670.4 1679.5,669.1 1683.2,668.6 1687.1,669.6 1691.1,671.7 1695.2,674.2 1699.1,676.4 1703.0,677.5 1706.3,677.4 1709.6,676.6 1712.8,675.6 1715.9,674.4 1718.9,673.6 1721.4,673.1 1723.8,672.9 1726.1,672.6 1728.5,672.2 1730.8,671.6 1733.2,670.4 1735.6,668.9 1738.0,667.3 1740.3,666.1 1742.7,665.6 1745.1,666.3 1747.3,667.9 1749.7,669.8 1752.1,671.6 1754.6,672.6 1757.6,672.5 1760.9,671.7 1764.2,670.7 1767.4,669.8 1770.5,669.6 1773.0,670.3 1775.4,671.6 1777.7,673.1 1780.0,674.2 1782.4,674.6 1785.1,673.5 1787.9,671.4 1790.7,668.8 1793.5,666.7 1796.3,665.6 1798.7,666.0 1801.0,667.1 1803.4,668.5 1805.8,669.9 1808.2,670.6 1810.5,670.6 1812.7,670.2 1815.0,669.6 1817.5,669.0 1820.1,668.6 1824.2,668.6 1828.8,668.9 1833.6,669.2 1838.1,669.2 1841.9,668.6 1844.2,667.4 1846.2,665.7 1848.1,663.8 1849.9,662.4 1851.8,661.7 1853.7,662.0 1855.7,663.1 1857.6,664.4 1859.6,665.8 1861.7,666.6 1864.3,667.0 1867.0,666.9 1869.8,666.7 1872.7,666.6 1875.6,666.6 1879.5,667.2 1883.6,668.3 1887.8,669.3 1891.9,669.9 1895.5,669.6 1898.1,668.3 1900.5,666.2 1902.7,663.9 1904.9,661.9 1907.4,660.7 1910.0,660.6 1912.8,661.3 1915.7,662.3 1918.5,663.2 1921.3,663.7 1923.7,663.4 1926.0,662.8 1928.4,662.2 1930.7,661.7 1933.2,661.7 1936.2,662.6 1939.4,664.4 1942.5,666.4 1945.8,668.0 1949.0,668.6 1952.6,667.9 1956.2,666.2 1959.9,664.0 1963.4,662.0 1966.9,660.7 1969.6,660.3 1972.1,660.2 1974.6,660.2 1977.2,660.4 1980.0,660.7 1983.7,661.1 1987.6,661.6 1991.7,662.3 1995.8,663.0 1999.8,663.7"/>
<polyline stroke="#00FF00" points="324.0,1612.0 335.6,1612.4 348.1,1613.2 360.2,1613.8 370.6,1613.6 378.0,1612.0 380.1,1610.6 381.6,1608.7 382.7,1606.7 383.8,1605.0 385.0,1604.0 385.8,1603.7 386.6,1603.5 387.5,1603.5 388.2,1603.7 389.0,1604.0 390.0,1605.1 390.7,1606.8 391.5,1608.8 392.5,1610.6 394.0,1612.0 398.1,1613.3 403.8,1613.8 410.0,1613.8 415.7,1613.1 420.0,1612.0 421.7,1611.1 423.0,1610.0 424.2,1608.8 425.1,1607.4 426.0,1606.0 426.7,1604.4 427.3,1602.8 427.7,1601.0 428.1,1599.0 428.5,1597.0 429.2,1593.8 430.0,1590.3 430.7,1586.5 431.4,1582.7 432.0,1579.0 432.5,1575.3 432.9,1571.7 433.3,1568.1 433.7,1564.2 434.0,1560.0 434.5,1553.6 434.9,1546.8 435.3,1539.5 435.6,1531.5 436.0,1523.0 436.5,1508.3 436.9,1491.4 437.3,1473.7 437.6,1456.1 438.0,1440.0 438.3,1428.1 438.6,1416.9 439.0,1406.1 439.2,1394.9 439.5,1383.0 439.7,1367.4 439.8,1351.0 439.9,1334.1 440.1,1317.0 440.5,1300.0 441.2,1282.7 442.0,1265.2 443.0,1247.7 444.0,1230.3 445.0,1213.0 445.9,1196.3 446.8,1179.7 447.7,1163.2 448.8,1146.7 449.9,1130.0 451.2,1112.7 452.5,1095.2 454.0,1077.7 455.6,1060.3 457.5,1043.0 459.7,1025.8 462.3,1008.3 465.0,991.1 467.6,974.8 470.0,960.0 471.6,950.4 473.1,941.3 474.6,932.7 476.0,924.8 477.2,917.6 478.0,913.2 478.7,909.1 479.4,905.4 480.0,901.6 480.8,897.8 481.6,893.8 482.4,889.8 483.3,885.9 484.2,881.9 485.2,877.9 486.2,874.0 487.2,870.0 488.4,866.0 489.5,862.1 490.7,858.1 492.0,854.1 493.4,850.2 494.8,846.2 496.2,842.2 497.5,838.3 498.6,834.3 499.7,830.3 500.7,826.3 501.8,822.4 503.0,818.4 504.5,814.4 506.0,810.4 507.7,806.5 509.3,802.5 511.0,798.6 512.5,794.6 514.1,790.6 515.7,786.7 517.3,782.7 518.9,778.7 520.5,774.8 522.1,770.8 523.7,766.8 525.3,762.9 526.8,758.9 528.3,754.9 529.6,750.8 531.0,746.8 532.3,742.9 533.8,739.0 535.1,735.7 536.4,732.5 537.8,729.3 539.2,726.2 540.7,723.2 542.2,720.3 543.7,717.5 545.3,714.7 546.9,712.0 548.7,709.3 550.5,706.5 552.4,703.7 554.4,700.9 556.5,698.1 558.6,695.4 560.9,692.6 563.4,690.0 565.9,687.3 568.3,684.5 570.5,681.5 572.3,678.1 573.8,674.5 575.2,670.8 576.6,667.1 578.4,663.7 580.5,660.3 582.8,657.0 585.2,653.8 587.7,650.7 590.3,647.8 593.0,645.2 595.7,642.9 598.6,640.7 601.4,638.4 604.2,635.9 607.1,632.9 609.9,629.6 612.7,626.3 615.5,623.1 618.1,620.1 620.2,617.8 622.2,615.6 624.1,613.5 626.0,611.4 628.0,609.4 629.9,607.1 631.8,604.6 633.7,602.3 635.7,600.4 637.9,599.4 640.5,599.8 643.4,601.4 646.4,603.4 649.2,605.0 651.8,605.4 654.0,604.4 656.0,602.6 657.9,600.2 659.8,597.8 661.7,595.5 664.1,593.2 666.5,590.8 669.0,588.4 671.4,586.0 673.7,583.6 675.7,581.1 677.7,578.6 679.7,576.1 681.6,573.7 683.6,571.7 685.1,570.2 686.7,568.8 688.2,567.5 689.8,566.5 691.5,565.7 693.4,565.4 695.4,565.6 697.4,565.9 699.4,566.1 701.4,565.7 703.8,564.4 706.2,562.5 708.6,560.2 710.9,557.8 713.3,555.8 715.7,554.2 718.2,552.6 720.6,551.2 723.0,549.6 725.2,547.9 727.3,545.6 729.3,542.9 731.1,540.3 733.1,538.2 735.2,536.9 737.1,537.0 739.0,537.8 741.1,538.9 743.1,539.8 745.1,539.9 747.5,538.9 749.8,536.9 752.2,534.6 754.6,532.1 757.0,530.0 759.3,528.3 761.8,526.8 764.2,525.2 766.6,523.7 768.9,522.1 771.1,520.2 773.2,518.1 775.3,516.1 777.5,514.4 780.0,513.1 783.0,512.7 786.2,513.0 789.6,513.4 792.9,513.7 795.9,513.1 798.5,511.5 800.7,509.2 802.9,506.6 805.2,504.1 807.8,502.2 810.8,501.0 814.0,500.2 817.4,499.6 820.7,499.0 823.7,498.3 825.8,497.4 827.7,496.5 829.6,495.6 831.5,494.8 833.6,494.3 835.9,494.3 838.2,494.7 840.7,495.2 843.1,495.5 845.5,495.3 848.3,494.1 851.1,492.2 853.9,490.0 856.7,487.9 859.4,486.3 861.4,485.5 863.3,484.8 865.2,484.2 867.2,483.8 869.3,483.4 871.9,483.1 874.7,482.9 877.6,482.9 880.4,482.7 883.2,482.4 885.7,481.9 888.2,481.3 890.6,480.6 892.9,479.6 895.1,478.4 897.2,476.5 899.0,474.1 900.7,471.5 902.7,469.2 905.0,467.5 908.1,466.6 911.7,466.4 915.5,466.6 919.3,466.7 922.9,466.5 926.1,466.0 929.3,465.4 932.5,464.6 935.6,463.7 938.7,462.5 942.1,460.8 945.4,458.6 948.6,456.3 951.7,454.2 954.6,452.6 956.3,452.0 957.8,451.5 959.3,451.1 960.8,450.8 962.5,450.6 965.4,450.7 968.6,451.2 972.0,451.7 975.3,452.0 978.4,451.6 981.3,450.4 984.0,448.6 986.7,446.5 989.4,444.4 992.3,442.7 995.8,441.1 999.5,439.5 1003.2,438.1 1006.9,437.1 1010.2,436.7 1012.3,437.0 1014.2,437.8 1016.0,438.7 1018.0,439.4 1020.1,439.7 1023.3,439.3 1026.9,438.3 1030.7,436.9 1034.4,435.3 1037.9,433.8 1041.2,432.0 1044.5,429.8 1047.6,427.6 1050.8,425.8 1053.8,424.8 1056.2,425.0 1058.6,425.7 1060.9,426.7 1063.3,427.5 1065.7,427.8 1068.8,427.3 1071.9,426.2 1075.1,424.7 1078.4,423.2 1081.6,421.9 1084.8,420.6 1088.2,419.2 1091.5,417.9 1094.6,416.8 1097.5,415.9 1099.2,415.5 1100.7,415.2 1102.2,415.0 1103.8,414.9 1105.4,414.9 1107.6,415.3 1109.9,416.2 1112.3,417.1 1114.8,417.7 1117.3,417.9 1120.4,417.2 1123.5,415.8 1126.8,414.1 1130.0,412.3 1133.2,411.0 1136.0,409.9 1138.7,408.9 1141.5,408.1 1144.2,407.4 1147.1,407.0 1150.2,407.2 1153.4,407.9 1156.6,408.7 1159.8,409.2 1162.9,409.0 1166.4,407.4 1169.7,404.7 1173.0,401.7 1176.4,398.9 1180.0,397.1 1183.9,396.3 1188.0,396.1 1192.3,396.3 1196.3,396.7 1199.8,397.1 1202.1,397.5 1204.1,398.2 1206.0,398.9 1207.9,399.2 1209.8,399.0 1212.1,397.6 1214.3,395.2 1216.6,392.4 1219.0,389.8 1221.7,388.1 1224.9,387.5 1228.4,387.6 1232.1,388.1 1235.9,388.7 1239.5,389.1 1243.1,389.5 1246.8,390.0 1250.4,390.4 1253.9,390.5 1257.4,390.1 1260.7,388.8 1263.8,386.8 1266.9,384.5 1270.0,382.5 1273.3,381.2 1276.4,380.9 1279.5,381.1 1282.7,381.6 1285.9,382.1 1289.1,382.2 1292.7,381.9 1296.4,381.5 1300.1,380.9 1303.7,380.1 1307.0,379.2 1309.5,378.1 1311.9,376.7 1314.1,375.3 1316.4,374.1 1318.9,373.3 1321.9,373.0 1325.1,373.2 1328.3,373.7 1331.6,374.1 1334.8,374.2 1337.6,374.1 1340.3,373.8 1343.0,373.4 1345.7,372.9 1348.7,372.3 1352.5,371.2 1356.5,369.7 1360.6,368.1 1364.7,366.9 1368.5,366.3 1371.4,366.6 1374.2,367.3 1376.9,368.3 1379.6,369.0 1382.4,369.3 1385.5,368.8 1388.7,367.9 1391.9,366.7 1395.1,365.5 1398.3,364.3 1401.5,363.2 1404.7,362.1 1407.9,361.0 1411.1,360.0 1414.1,359.4 1416.6,359.0 1419.1,358.8 1421.5,358.8 1423.8,359.0 1426.0,359.4 1428.1,360.2 1430.0,361.4 1431.8,362.7 1433.8,363.8 1436.0,364.3 1439.3,363.9 1442.9,362.5 1446.8,360.7 1450.5,358.8 1453.8,357.4 1455.9,356.6 1457.8,355.8 1459.7,355.1 1461.6,354.6 1463.7,354.4 1467.0,354.9 1470.7,356.0 1474.4,357.5 1478.2,358.7 1481.6,359.4 1484.1,359.3 1486.5,359.0 1488.8,358.5 1491.2,357.9 1493.5,357.4 1495.9,356.9 1498.3,356.4 1500.7,355.8 1503.0,355.2 1505.4,354.4 1507.8,353.3 1510.1,351.8 1512.4,350.3 1514.7,349.1 1517.3,348.5 1520.6,348.8 1524.2,350.0 1527.9,351.6 1531.6,352.9 1535.2,353.4 1538.4,353.0 1541.6,351.9 1544.7,350.6 1547.9,349.3 1551.0,348.5 1554.2,348.0 1557.4,347.7 1560.6,347.5 1563.8,347.5 1566.9,347.5 1569.6,347.6 1572.3,347.8 1574.9,348.1 1577.4,348.4 1580.0,348.5 1582.4,348.4 1584.7,348.4 1587.1,348.2 1589.5,347.9 1591.9,347.5 1594.9,346.5 1597.9,345.1 1601.1,343.6 1604.3,342.3 1607.8,341.5 1612.3,341.5 1617.2,342.3 1622.2,343.3 1627.1,344.2 1631.6,344.5 1635.0,344.2 1638.2,343.7 1641.3,343.1 1644.4,342.3 1647.5,341.5 1650.6,340.5 1653.7,339.4 1656.8,338.2 1660.0,337.2 1663.3,336.5 1667.4,336.5 1671.8,337.1 1676.2,337.9 1680.7,338.5 1685.2,338.5 1690.0,337.7 1694.9,336.3 1699.9,334.8 1704.6,333.4 1709.0,332.6 1712.0,332.5 1714.8,332.6 1717.5,332.9 1720.1,333.2 1722.9,333.6 1725.7,334.0 1728.5,334.6 1731.3,335.2 1734.1,335.6 1736.7,335.6 1739.2,334.9 1741.6,333.8 1743.9,332.5 1746.3,331.3 1748.7,330.6 1751.0,330.5 1753.4,330.7 1755.9,331.1 1758.2,331.4 1760.6,331.6 1762.6,331.5 1764.5,331.2 1766.5,330.9 1768.5,330.7 1770.5,330.6 1772.8,330.9 1775.1,331.5 1777.5,332.1 1780.0,332.6 1782.4,332.6 1785.1,331.9 1787.7,330.6 1790.4,329.1 1793.2,327.7 1796.3,326.6 1800.4,325.8 1804.9,325.1 1809.6,324.7 1814.1,324.5 1818.1,324.6 1820.7,325.1 1823.1,325.9 1825.3,326.7 1827.6,327.4 1830.0,327.6 1833.0,327.1 1836.2,325.9 1839.4,324.5 1842.6,323.3 1845.9,322.7 1849.1,322.9 1852.3,323.6 1855.6,324.6 1858.7,325.4 1861.7,325.6 1864.3,325.3 1866.8,324.5 1869.2,323.6 1871.5,322.9 1873.7,322.7 1875.3,323.0 1876.9,323.8 1878.3,324.7 1879.9,325.4 1881.6,325.6 1884.1,325.0 1886.8,323.7 1889.6,322.0 1892.5,320.6 1895.5,319.7 1898.5,319.6 1901.6,320.0 1904.7,320.7 1908.0,321.3 1911.3,321.7 1915.6,321.8 1920.2,321.8 1924.8,321.7 1929.2,321.3 1933.2,320.7 1935.8,319.8 1938.1,318.6 1940.3,317.4 1942.6,316.3 1945.1,315.7 1948.4,315.8 1952.1,316.6 1955.8,317.6 1959.5,318.5 1962.9,318.7 1966.0,318.1 1969.0,317.2 1971.9,316.0 1974.6,314.9 1976.8,314.1 1977.8,313.9 1978.7,313.7 1979.4,313.6 1980.3,313.5 1981.4,313.4 1984.3,313.1 1987.9,312.9 1991.9,312.7 1996.0,312.5 1999.9,312.4"/>
<polyline stroke="#A66500" points="324.0,1612.0 340.0,1612.0 356.7,1612.1 373.1,1612.2 387.9,1612.2 400.0,1612.0 405.1,1612.0 409.6,1612.2 413.7,1612.2 417.2,1611.9 420.0,1611.0 421.4,1610.1 422.6,1609.0 423.5,1607.7 424.3,1606.4 425.0,1605.0 425.6,1603.6 426.0,1602.1 426.3,1600.5 426.6,1598.8 427.0,1597.0 427.7,1593.9 428.4,1590.4 429.2,1586.6 429.9,1582.8 430.5,1579.0 431.0,1575.3 431.4,1571.7 431.8,1568.1 432.2,1564.2 432.5,1560.0 433.0,1553.6 433.4,1546.8 433.8,1539.5 434.1,1531.5 434.5,1523.0 435.0,1508.3 435.4,1491.4 435.8,1473.7 436.1,1456.1 436.5,1440.0 436.8,1428.1 437.1,1416.9 437.4,1406.1 437.7,1394.9 438.0,1383.0 438.3,1367.4 438.6,1351.0 438.9,1334.1 439.2,1317.0 439.5,1300.0 439.8,1282.7 440.1,1265.2 440.5,1247.7 440.9,1230.3 441.5,1213.0 442.2,1196.3 442.9,1179.7 443.8,1163.2 444.8,1146.7 446.0,1130.0 447.4,1112.7 448.8,1095.2 450.5,1077.7 452.4,1060.3 454.7,1043.0 457.4,1025.6 460.4,1007.7 463.7,990.3 467.1,974.1 470.5,960.0 472.6,952.5 474.8,945.8 476.9,939.7 479.1,933.7 481.2,927.5 483.2,921.4 485.1,915.4 487.1,909.4 489.1,903.5 491.1,897.8 493.0,892.8 495.0,888.0 497.0,883.3 499.0,878.7 501.0,874.0 503.0,869.1 504.8,864.0 506.8,859.0 508.8,854.3 511.0,850.2 512.8,847.4 514.7,844.8 516.6,842.5 518.7,840.3 520.9,838.3 523.1,836.5 525.6,835.0 528.1,833.6 530.5,832.1 532.8,830.3 534.9,828.0 536.8,825.4 538.7,822.8 540.6,820.4 542.7,818.4 544.6,817.4 546.7,816.7 548.8,816.2 550.8,815.5 552.6,814.4 554.4,812.5 556.0,810.2 557.5,807.6 559.0,805.0 560.6,802.5 562.0,800.4 563.5,798.2 565.0,796.1 566.6,794.2 568.5,792.6 570.6,791.5 573.0,790.7 575.5,790.1 578.0,789.5 580.4,788.7 582.8,787.5 585.2,786.2 587.5,784.8 589.9,783.6 592.3,782.7 594.7,782.3 597.1,782.3 599.5,782.4 601.9,782.3 604.2,781.7 606.7,780.5 609.1,778.8 611.4,776.8 613.8,774.7 616.1,772.8 618.5,770.6 620.9,768.2 623.3,765.8 625.7,763.9 628.0,762.9 629.6,762.9 631.2,763.4 632.7,764.1 634.3,764.7 636.0,764.8 638.2,764.2 640.5,762.9 642.8,761.4 645.3,759.9 647.9,758.9 650.9,758.5 654.2,758.5 657.5,758.6 660.7,758.5 663.7,757.9 666.4,756.6 668.9,754.8 671.2,752.8 673.5,750.8 675.6,749.0 677.3,747.6 678.8,746.3 680.2,745.0 681.8,743.9 683.6,743.0 686.1,742.4 688.8,742.3 691.8,742.3 694.7,742.3 697.5,742.0 700.0,741.4 702.4,740.5 704.8,739.6 707.2,739.1 709.4,739.0 711.3,739.9 713.0,741.3 714.7,743.0 716.4,744.3 718.3,745.0 720.7,744.7 723.3,743.7 725.9,742.3 728.6,740.6 731.2,739.0 733.9,737.2 736.6,735.0 739.4,732.7 742.1,730.7 745.1,729.1 748.1,728.2 751.2,727.5 754.4,727.1 757.7,727.0 761.0,727.1 764.8,727.9 768.8,729.4 772.8,731.0 776.6,732.1 780.0,732.1 782.7,730.7 785.0,728.4 787.2,725.7 789.4,723.1 791.9,721.2 794.5,720.2 797.3,719.6 800.2,719.2 803.1,718.8 805.8,718.2 808.3,717.4 810.7,716.4 813.1,715.5 815.5,714.7 817.7,714.2 819.4,714.2 821.0,714.2 822.6,714.4 824.1,714.8 825.6,715.2 827.3,716.1 828.8,717.4 830.4,718.8 831.9,719.8 833.6,720.2 835.5,719.6 837.4,718.2 839.3,716.4 841.4,714.6 843.5,713.3 845.8,712.4 848.2,711.9 850.7,711.4 853.1,711.0 855.4,710.3 857.5,709.4 859.5,708.4 861.4,707.4 863.4,706.3 865.3,705.3 867.3,704.2 869.2,702.9 871.1,701.7 873.1,700.8 875.2,700.4 877.9,700.8 880.6,702.1 883.5,703.7 886.3,705.2 889.1,706.3 891.5,706.8 893.9,707.1 896.3,707.3 898.7,707.4 901.0,707.3 903.5,707.2 905.9,707.0 908.4,706.7 910.7,706.2 912.9,705.3 915.1,703.9 917.1,702.0 919.0,700.0 920.9,698.0 922.9,696.4 924.6,695.3 926.3,694.2 928.0,693.3 929.8,692.7 931.8,692.4 934.8,692.9 938.2,694.3 941.7,696.0 945.3,697.5 948.7,698.4 951.5,698.4 954.3,698.0 957.1,697.4 959.8,696.8 962.5,696.4 965.0,696.4 967.4,696.7 969.8,696.9 972.2,696.9 974.4,696.4 977.0,694.9 979.4,692.7 981.7,690.2 984.1,688.0 986.3,686.5 987.9,685.9 989.5,685.5 991.0,685.4 992.6,685.4 994.3,685.5 996.8,685.9 999.5,686.8 1002.3,687.8 1005.2,688.7 1008.2,689.4 1011.6,690.0 1015.3,690.5 1019.0,690.8 1022.6,690.9 1026.0,690.4 1028.9,689.5 1031.6,688.1 1034.2,686.5 1036.9,684.9 1039.9,683.5 1044.0,681.9 1048.4,680.3 1052.9,678.9 1057.4,677.9 1061.7,677.5 1065.4,678.0 1069.0,679.2 1072.5,680.7 1076.1,681.9 1079.6,682.5 1083.2,682.4 1086.8,681.8 1090.5,680.9 1094.0,679.8 1097.5,678.5 1100.7,676.8 1103.9,674.6 1107.0,672.3 1110.2,670.5 1113.3,669.6 1116.5,670.0 1119.6,671.2 1122.8,672.9 1126.0,674.5 1129.2,675.6 1132.4,676.0 1135.6,676.1 1138.8,676.1 1142.0,675.9 1145.1,675.6 1148.0,675.2 1150.9,674.8 1153.7,674.3 1156.4,673.6 1159.0,672.6 1161.1,671.2 1163.1,669.4 1164.9,667.5 1166.8,665.9 1168.9,664.6 1171.0,664.0 1173.3,663.5 1175.6,663.3 1177.9,663.4 1180.0,663.7 1181.7,664.3 1183.3,665.2 1184.8,666.3 1186.4,667.1 1187.9,667.6 1189.5,667.5 1191.1,667.0 1192.6,666.3 1194.2,665.8 1195.9,665.6 1197.8,666.2 1199.6,667.2 1201.6,668.4 1203.6,669.3 1205.8,669.6 1209.3,668.5 1213.2,666.0 1217.2,663.1 1221.4,660.4 1225.6,658.7 1230.0,658.2 1234.6,658.3 1239.2,658.8 1243.5,659.7 1247.5,660.7 1250.1,661.8 1252.5,663.3 1254.8,664.8 1257.0,666.0 1259.4,666.6 1261.7,666.5 1264.0,665.9 1266.4,664.9 1268.8,663.8 1271.3,662.7 1274.3,661.0 1277.4,658.9 1280.6,656.8 1283.9,654.9 1287.1,653.7 1290.3,653.3 1293.4,653.3 1296.7,653.6 1299.9,654.1 1303.0,654.7 1306.2,655.8 1309.4,657.4 1312.5,659.0 1315.7,660.3 1318.9,660.7 1322.5,659.7 1326.1,657.7 1329.8,655.3 1333.3,653.1 1336.7,651.7 1339.2,651.6 1341.6,651.9 1343.9,652.3 1346.3,652.7 1348.7,652.7 1351.4,652.1 1354.2,651.0 1357.0,649.8 1359.8,648.9 1362.5,648.8 1365.4,650.0 1368.2,652.3 1370.9,654.8 1373.7,656.9 1376.4,657.7 1379.2,656.7 1382.1,654.3 1384.9,651.4 1387.7,648.9 1390.3,647.8 1392.3,648.2 1394.3,649.5 1396.2,651.0 1398.2,652.3 1400.2,652.7 1403.2,651.5 1406.3,648.8 1409.5,645.6 1412.8,643.0 1416.1,641.8 1419.7,642.9 1423.4,645.6 1427.2,648.9 1430.7,651.6 1434.0,652.7 1436.1,652.0 1438.1,650.4 1439.9,648.4 1441.8,646.7 1443.9,645.8 1446.1,646.0 1448.5,647.1 1450.9,648.4 1453.3,649.5 1455.8,649.8 1458.9,648.5 1462.0,646.1 1465.1,643.3 1468.4,640.9 1471.7,639.8 1475.2,640.6 1478.9,642.8 1482.5,645.4 1486.1,647.7 1489.5,648.8 1492.0,648.5 1494.4,647.6 1496.7,646.4 1499.0,645.4 1501.4,644.8 1504.1,645.0 1507.0,645.7 1509.8,646.6 1512.6,647.1 1515.3,646.8 1518.2,644.9 1521.0,641.7 1523.7,638.1 1526.4,635.2 1529.2,633.9 1531.9,634.7 1534.7,637.1 1537.4,639.9 1540.2,642.5 1543.1,643.8 1545.8,643.5 1548.6,642.3 1551.5,640.7 1554.3,639.4 1557.0,638.8 1559.5,639.5 1561.9,640.8 1564.3,642.4 1566.6,643.5 1568.9,643.8 1571.3,642.7 1573.6,640.7 1575.8,638.1 1578.0,635.7 1580.0,633.9 1581.2,633.0 1582.4,632.2 1583.5,631.5 1584.7,631.0 1586.0,630.9 1587.8,631.6 1589.6,633.2 1591.6,635.1 1593.7,636.9 1595.9,637.9 1598.4,637.8 1601.2,637.1 1604.0,636.0 1606.9,635.1 1609.8,634.9 1612.9,635.7 1616.0,637.3 1619.2,639.1 1622.4,640.4 1625.6,640.8 1629.2,639.5 1632.9,636.9 1636.5,633.9 1640.1,631.2 1643.5,629.9 1646.0,630.1 1648.4,631.1 1650.7,632.4 1653.0,633.4 1655.4,633.9 1657.8,633.4 1660.1,632.4 1662.5,631.1 1664.9,630.1 1667.3,629.9 1670.4,631.2 1673.5,633.7 1676.7,636.6 1679.9,638.9 1683.2,639.8 1686.6,638.8 1690.0,636.3 1693.5,633.1 1697.2,630.1 1701.0,627.9 1705.6,626.6 1710.6,625.8 1715.7,625.3 1720.6,625.4 1724.8,626.0 1727.5,627.0 1729.8,628.7 1731.9,630.5 1734.2,632.1 1736.7,632.9 1740.6,632.6 1744.9,631.3 1749.5,629.4 1754.1,627.4 1758.6,626.0 1763.0,624.8 1767.4,623.5 1771.9,622.4 1776.2,621.9 1780.4,622.0 1784.1,623.2 1787.7,625.4 1791.2,627.8 1794.7,629.8 1798.3,630.9 1801.9,630.6 1805.6,629.4 1809.3,627.8 1812.9,626.5 1816.1,626.0 1818.3,626.3 1820.2,627.1 1822.1,628.0 1824.0,628.7 1826.0,628.9 1829.0,628.0 1832.0,626.1 1835.2,623.9 1838.5,622.0 1841.9,621.0 1845.7,621.2 1849.7,622.2 1853.8,623.7 1857.9,625.1 1861.7,626.0 1865.0,626.3 1868.1,626.5 1871.3,626.6 1874.4,626.4 1877.6,626.0 1881.5,624.9 1885.4,623.2 1889.4,621.3 1893.4,619.8 1897.5,619.0 1901.4,619.2 1905.4,620.1 1909.3,621.2 1913.3,622.3 1917.3,623.0 1921.3,623.2 1925.2,623.2 1929.2,623.0 1933.2,622.6 1937.1,622.0 1941.1,621.0 1945.0,619.6 1948.9,618.0 1952.9,616.8 1957.0,616.0 1961.5,616.0 1966.1,616.6 1970.8,617.5 1975.5,618.3 1980.0,619.0 1984.1,619.4 1988.0,619.7 1992.0,620.0 1995.9,620.3 1999.8,620.6"/>
<polyline stroke="#FF0000" points="324.0,1603.0 332.4,1603.1 341.2,1603.3 349.8,1603.4 357.6,1603.5 364.0,1603.5 366.7,1603.4 369.0,1603.2 371.1,1603.1 373.0,1603.0 375.0,1603.2 376.7,1603.5 378.4,1604.0 380.0,1604.6 381.5,1605.2 383.0,1606.0 384.3,1606.9 385.4,1607.9 386.5,1609.1 387.6,1610.1 389.0,1611.0 390.9,1611.9 393.0,1612.6 395.3,1613.2 397.6,1613.6 400.0,1614.0 402.9,1614.3 406.1,1614.4 409.3,1614.4 412.3,1614.3 415.0,1614.0 416.6,1613.7 418.1,1613.4 419.5,1613.1 420.8,1612.6 422.0,1612.0 423.0,1611.3 423.8,1610.6 424.6,1609.7 425.4,1608.9 426.0,1608.0 426.5,1607.3 426.8,1606.6 427.2,1605.9 427.5,1605.0 427.8,1604.0 428.7,1600.3 429.6,1595.4 430.4,1589.7 431.2,1584.0 431.9,1578.9 432.4,1575.1 432.8,1571.6 433.2,1568.1 433.6,1564.5 433.9,1560.4 434.3,1554.0 434.7,1547.2 435.0,1539.8 435.4,1531.9 435.7,1523.3 436.2,1508.5 436.7,1491.6 437.2,1473.8 437.7,1456.2 438.1,1440.0 438.4,1428.1 438.7,1417.1 439.0,1406.2 439.3,1395.2 439.6,1383.3 440.0,1367.7 440.4,1351.2 440.8,1334.2 441.2,1317.0 441.6,1300.0 442.0,1282.7 442.4,1265.2 442.7,1247.7 443.1,1230.3 443.6,1213.0 444.1,1196.3 444.6,1179.8 445.2,1163.2 445.8,1146.7 446.4,1130.0 447.1,1112.7 447.9,1095.2 448.7,1077.7 449.6,1060.3 450.4,1043.0 451.2,1026.1 452.0,1009.1 452.8,992.2 453.6,975.8 454.5,960.0 455.3,947.0 456.2,934.4 457.1,922.1 458.0,910.0 459.0,897.8 459.9,885.6 460.9,873.3 462.0,861.1 463.1,849.4 464.3,838.3 465.4,829.8 466.6,821.8 467.8,814.0 469.0,806.3 470.3,798.6 471.5,790.7 472.7,782.8 474.0,774.9 475.2,767.2 476.4,759.9 477.5,753.8 478.5,748.0 479.5,742.3 480.5,736.7 481.6,731.1 482.6,725.9 483.7,720.7 484.8,715.6 486.0,710.4 487.1,705.3 488.4,700.1 489.6,694.9 490.9,689.8 492.2,684.6 493.5,679.5 494.8,674.7 496.1,669.8 497.4,665.0 498.7,660.3 500.0,655.7 501.3,651.6 502.5,647.5 503.7,643.6 504.9,639.7 506.0,635.9 506.8,632.6 507.6,629.6 508.3,626.5 509.1,623.4 510.0,620.1 511.1,615.8 512.4,611.2 513.8,606.5 515.3,601.9 516.9,597.5 518.7,593.4 520.6,589.4 522.7,585.5 524.8,581.6 526.8,577.6 528.8,573.6 530.8,569.6 532.7,565.6 534.7,561.7 536.7,557.8 538.6,554.0 540.5,550.1 542.3,546.4 544.4,542.9 546.7,539.9 548.8,538.0 551.1,536.4 553.6,535.1 556.1,533.7 558.6,532.0 561.7,529.4 564.9,526.4 568.1,523.4 571.3,520.5 574.4,518.1 576.8,516.7 579.2,515.6 581.5,514.6 583.9,513.5 586.3,512.1 589.4,510.1 592.6,507.7 595.9,505.2 599.1,502.6 602.2,500.2 605.0,498.2 607.8,496.2 610.6,494.2 613.3,492.2 616.1,490.3 618.9,488.3 621.6,486.3 624.3,484.3 627.1,482.6 630.0,481.4 632.7,480.8 635.5,480.6 638.4,480.5 641.2,480.6 643.9,480.4 646.3,480.1 648.7,479.8 651.1,479.4 653.4,478.9 655.8,478.4 658.2,477.8 660.6,477.1 663.0,476.4 665.4,475.5 667.7,474.4 670.1,473.1 672.5,471.5 674.9,469.9 677.2,468.2 679.6,466.5 681.9,464.8 684.1,462.9 686.3,461.2 688.8,459.6 691.5,458.6 695.7,458.2 700.5,458.8 705.5,459.7 710.6,460.5 715.3,460.6 719.5,459.9 723.5,458.9 727.5,457.6 731.3,456.2 735.2,454.6 738.8,452.7 742.4,450.5 746.0,448.3 749.5,446.2 753.0,444.7 756.2,443.8 759.5,443.3 762.7,442.9 765.9,442.8 768.9,442.7 771.2,442.8 773.4,443.0 775.5,443.2 777.7,443.5 780.0,443.7 783.1,443.9 786.4,444.1 789.7,444.2 792.9,444.1 795.9,443.7 798.0,443.0 799.8,442.0 801.6,440.9 803.6,439.8 805.8,438.7 809.9,437.2 814.6,435.6 819.7,434.1 824.8,432.8 829.6,431.8 833.7,431.2 837.7,430.9 841.6,430.8 845.6,430.8 849.4,430.8 853.1,431.0 856.7,431.3 860.3,431.7 863.8,431.9 867.3,431.8 870.5,431.3 873.7,430.6 876.8,429.8 879.9,428.8 883.2,427.8 887.0,426.4 891.1,424.6 895.1,422.9 899.1,421.5 903.0,420.9 906.3,421.1 909.4,421.8 912.5,422.9 915.6,424.0 918.9,424.8 922.8,425.7 926.9,426.7 931.0,427.6 935.0,428.0 938.7,427.8 941.7,426.8 944.5,425.1 947.1,423.1 949.8,421.2 952.6,419.9 955.6,419.1 958.6,418.5 961.8,418.2 965.0,418.0 968.5,417.9 973.3,418.1 978.4,418.6 983.7,419.2 989.1,419.7 994.3,419.9 999.2,419.7 1004.2,419.3 1009.1,418.7 1013.8,417.9 1018.1,416.9 1021.2,415.9 1024.0,414.6 1026.7,413.3 1029.3,412.0 1032.0,411.0 1034.4,410.1 1036.7,409.3 1039.1,408.7 1041.5,408.2 1043.9,408.0 1046.5,408.2 1049.2,408.8 1051.9,409.6 1054.8,410.4 1057.8,411.0 1061.9,411.4 1066.3,411.7 1070.8,411.8 1075.4,411.6 1079.6,411.0 1083.4,409.7 1087.0,407.7 1090.5,405.6 1094.0,403.9 1097.5,403.0 1100.6,403.2 1103.6,404.0 1106.7,405.1 1109.9,406.2 1113.3,407.0 1118.5,407.5 1124.1,407.9 1130.0,408.0 1135.8,407.7 1141.1,407.0 1145.5,405.7 1149.8,403.7 1153.8,401.6 1157.6,399.9 1161.0,399.0 1162.7,399.1 1164.3,399.5 1165.8,400.1 1167.3,400.7 1168.9,401.0 1170.9,401.2 1173.0,401.2 1175.2,401.1 1177.5,401.0 1180.0,401.0 1183.6,401.2 1187.6,401.6 1191.8,401.9 1195.9,402.1 1199.8,402.0 1203.1,401.6 1206.3,401.1 1209.5,400.3 1212.6,399.6 1215.7,399.0 1218.9,398.6 1222.1,398.2 1225.2,397.9 1228.4,397.5 1231.6,397.1 1234.8,396.5 1237.9,395.7 1241.1,395.0 1244.3,394.4 1247.5,394.1 1250.6,394.2 1253.8,394.5 1257.0,395.0 1260.2,395.5 1263.3,396.1 1266.5,396.7 1269.5,397.5 1272.6,398.2 1275.8,398.8 1279.2,399.0 1283.7,398.7 1288.5,397.8 1293.5,396.7 1298.4,395.7 1303.0,395.1 1306.7,395.0 1310.3,395.3 1313.8,395.6 1317.3,395.9 1320.9,396.1 1324.4,396.1 1328.0,396.1 1331.6,396.0 1335.1,395.7 1338.7,395.1 1342.7,393.8 1346.9,392.1 1350.9,390.1 1354.9,388.4 1358.6,387.1 1361.1,386.6 1363.4,386.2 1365.7,386.1 1368.0,386.0 1370.5,386.2 1373.5,386.6 1376.6,387.3 1379.8,388.3 1383.1,389.3 1386.3,390.1 1389.8,391.1 1393.3,392.2 1396.9,393.2 1400.5,393.9 1404.2,394.1 1408.5,393.4 1412.9,392.1 1417.4,390.4 1421.8,388.6 1426.0,387.1 1429.7,385.9 1433.4,384.6 1437.0,383.4 1440.5,382.5 1443.9,382.2 1446.8,382.4 1449.6,383.1 1452.4,384.0 1455.1,385.1 1457.8,386.2 1460.2,387.4 1462.5,388.9 1464.8,390.3 1467.2,391.5 1469.7,392.1 1472.7,391.9 1475.8,391.1 1479.0,389.8 1482.2,388.4 1485.6,387.1 1489.5,385.6 1493.6,383.9 1497.7,382.2 1501.7,380.8 1505.4,380.2 1507.9,380.4 1510.3,380.9 1512.5,381.7 1514.8,382.5 1517.3,383.2 1520.3,383.7 1523.4,384.2 1526.6,384.7 1529.8,385.0 1533.2,385.2 1537.1,385.1 1541.1,384.8 1545.2,384.4 1549.3,383.8 1553.0,383.2 1556.0,382.4 1558.8,381.5 1561.5,380.5 1564.2,379.7 1566.9,379.2 1569.5,379.1 1572.1,379.3 1574.7,379.6 1577.3,380.0 1580.0,380.2 1583.1,380.2 1586.2,380.2 1589.5,380.1 1592.7,380.1 1595.9,380.2 1599.0,380.6 1602.0,381.2 1605.1,381.8 1608.3,382.2 1611.7,382.2 1617.1,381.0 1623.0,378.8 1629.1,376.4 1634.7,374.3 1639.5,373.3 1641.8,373.4 1643.9,373.8 1645.8,374.4 1647.6,375.0 1649.4,375.2 1651.1,375.1 1652.7,374.8 1654.2,374.5 1655.8,374.2 1657.4,374.2 1659.2,374.8 1661.1,375.7 1662.9,376.8 1665.0,377.7 1667.3,378.2 1671.7,377.7 1676.9,376.2 1682.4,374.3 1687.9,372.4 1693.1,371.3 1697.3,370.8 1701.4,370.5 1705.4,370.5 1709.3,370.7 1712.9,371.3 1715.9,372.3 1718.7,373.7 1721.3,375.3 1724.0,376.6 1726.8,377.2 1729.9,377.1 1733.0,376.4 1736.1,375.3 1739.4,374.2 1742.7,373.3 1746.5,372.3 1750.4,371.3 1754.4,370.4 1758.4,369.7 1762.5,369.3 1767.1,369.4 1771.8,370.0 1776.6,370.8 1781.4,371.6 1786.3,372.3 1791.8,372.9 1797.6,373.7 1803.3,374.3 1808.9,374.6 1814.1,374.2 1818.4,373.3 1822.5,371.7 1826.4,369.9 1830.3,368.3 1834.0,367.3 1836.9,366.9 1839.8,366.6 1842.5,366.6 1845.2,366.8 1847.9,367.3 1850.3,368.2 1852.6,369.6 1854.9,371.2 1857.2,372.5 1859.8,373.3 1863.1,373.4 1866.6,372.9 1870.3,372.1 1874.0,371.2 1877.6,370.3 1881.2,369.3 1884.9,368.2 1888.5,367.0 1892.0,366.0 1895.5,365.3 1898.3,365.0 1901.0,364.8 1903.7,364.8 1906.4,365.0 1909.4,365.3 1913.4,366.3 1917.6,367.8 1922.0,369.4 1926.6,370.7 1931.2,371.3 1936.6,370.6 1942.3,369.0 1948.1,367.0 1953.7,365.3 1959.0,364.3 1963.0,364.3 1966.9,364.6 1970.7,365.1 1974.1,365.8 1976.8,366.3 1977.9,366.5 1978.8,366.8 1979.5,367.0 1980.4,367.3 1981.4,367.6 1983.6,368.3 1986.3,369.3 1989.1,370.3 1991.9,371.1 1994.2,371.4 1995.5,371.4 1996.6,371.2 1997.7,370.8 1998.8,370.5 1999.9,370.2"/>
<polyline stroke="#FFC000" points="326.8,1599.3 328.5,1598.5 330.2,1597.6 332.0,1596.8 333.8,1595.9 335.8,1595.1 338.8,1593.9 342.1,1592.7 345.6,1591.5 349.1,1590.4 352.6,1589.7 355.7,1589.2 358.8,1589.0 361.9,1588.9 365.0,1588.9 368.0,1588.9 370.9,1588.9 373.7,1589.0 376.5,1589.1 379.3,1589.2 382.2,1589.3 385.8,1589.4 389.6,1589.5 393.4,1589.6 397.1,1589.5 400.3,1589.1 402.3,1588.7 404.2,1588.1 406.0,1587.5 407.7,1586.7 409.3,1585.8 410.8,1584.8 412.2,1583.7 413.5,1582.5 414.7,1581.3 415.8,1580.0 416.7,1578.7 417.5,1577.3 418.3,1575.9 419.0,1574.4 419.6,1572.9 420.3,1571.1 420.8,1569.2 421.3,1567.2 421.8,1565.4 422.2,1563.9 422.4,1563.1 422.6,1562.5 422.8,1562.0 422.9,1561.3 423.1,1560.4 423.8,1555.6 424.6,1548.7 425.4,1540.5 426.2,1531.8 426.9,1523.3 427.6,1513.0 428.1,1502.0 428.6,1490.7 429.1,1479.8 429.4,1470.0 429.6,1463.6 429.7,1457.8 429.8,1452.3 430.0,1446.5 430.1,1440.0 430.3,1430.0 430.6,1419.1 430.9,1407.6 431.2,1395.6 431.6,1383.3 432.1,1367.7 432.6,1351.2 433.2,1334.2 433.8,1317.0 434.4,1300.0 435.0,1282.7 435.7,1265.2 436.4,1247.7 437.1,1230.3 437.9,1213.0 438.8,1196.3 439.7,1179.7 440.6,1163.2 441.7,1146.7 442.9,1130.0 444.2,1112.7 445.5,1095.2 446.9,1077.7 448.6,1060.3 450.7,1043.0 453.3,1025.4 456.4,1007.1 459.7,989.3 462.8,973.2 465.2,960.0 466.1,954.6 466.9,949.9 467.6,945.7 468.4,941.6 469.3,937.5 470.3,933.4 471.4,929.4 472.6,925.5 473.9,921.5 475.2,917.6 476.7,913.6 478.3,909.7 479.9,905.7 481.6,901.7 483.2,897.8 484.8,893.8 486.3,889.8 487.9,885.9 489.5,881.9 491.1,877.9 492.7,873.9 494.3,869.9 495.8,865.9 497.4,862.0 499.0,858.1 500.6,854.4 502.0,850.6 503.5,847.0 505.2,843.5 507.0,840.2 508.8,837.6 510.8,835.3 512.8,833.0 514.9,830.7 516.9,828.3 519.0,825.7 521.0,823.0 523.0,820.2 525.0,817.4 526.8,814.4 528.5,811.4 530.1,808.3 531.6,805.1 533.1,801.8 534.8,798.6 536.7,795.1 538.6,791.5 540.6,787.9 542.7,784.3 544.7,780.7 546.6,777.1 548.6,773.4 550.5,769.7 552.5,766.1 554.6,762.9 556.5,760.2 558.4,757.8 560.3,755.5 562.3,753.2 564.5,751.0 567.1,748.6 569.9,746.3 572.7,744.1 575.6,741.7 578.4,739.0 581.6,735.4 584.8,731.4 588.0,727.3 591.2,723.1 594.3,719.2 597.1,715.9 600.0,712.8 602.8,709.7 605.5,706.6 608.2,703.3 610.6,699.8 612.8,696.1 615.0,692.4 617.4,688.8 620.1,685.5 623.3,682.4 626.9,679.5 630.7,676.7 634.4,674.1 637.9,671.6 640.8,669.5 643.7,667.5 646.4,665.6 649.2,663.7 651.8,661.7 654.3,659.8 656.7,657.9 659.1,655.9 661.4,653.9 663.7,651.7 666.1,649.1 668.4,646.2 670.7,643.2 673.1,640.4 675.6,637.9 678.3,635.8 681.1,634.0 684.0,632.4 686.8,630.7 689.5,628.9 691.8,627.2 694.0,625.4 696.1,623.6 698.2,621.8 700.4,620.1 702.9,618.3 705.5,616.6 708.2,614.9 710.8,613.2 713.3,611.3 715.8,609.4 718.2,607.5 720.5,605.5 722.9,603.4 725.2,601.4 727.6,599.4 729.9,597.4 732.3,595.3 734.6,593.4 737.1,591.5 739.8,589.7 742.6,587.9 745.4,586.2 748.2,584.7 751.0,583.6 753.4,583.0 755.7,582.7 758.1,582.5 760.5,582.2 762.9,581.6 766.2,580.2 769.7,578.3 773.2,576.2 776.6,573.9 780.0,571.7 783.2,569.4 786.4,566.9 789.5,564.4 792.7,561.9 795.9,559.8 798.9,557.9 802.0,556.3 805.1,554.8 808.3,553.3 811.7,551.8 816.3,550.2 821.3,548.6 826.4,547.1 831.3,545.6 835.6,543.9 838.2,542.5 840.6,541.1 842.8,539.7 845.0,538.3 847.5,536.9 850.5,535.5 853.6,534.2 856.9,532.9 860.2,531.5 863.3,530.0 866.5,528.1 869.7,526.0 872.9,523.8 876.0,521.7 879.2,520.1 882.0,519.0 884.7,518.2 887.4,517.5 890.2,516.9 893.1,516.1 896.5,515.2 900.1,514.5 903.7,513.6 907.4,512.5 911.0,511.2 915.0,509.0 919.0,506.4 923.0,503.6 927.0,500.8 930.8,498.3 934.0,496.2 937.2,494.3 940.3,492.4 943.5,490.8 946.7,489.3 949.7,488.3 952.8,487.5 955.9,486.8 959.2,486.2 962.5,485.4 967.1,484.2 971.9,482.9 976.9,481.6 981.8,480.1 986.3,478.4 990.1,476.6 993.6,474.5 997.0,472.4 1000.5,470.3 1004.2,468.5 1008.4,466.8 1012.8,465.3 1017.2,463.9 1021.7,462.7 1026.0,461.5 1030.1,460.7 1034.1,460.0 1038.0,459.4 1042.0,458.7 1045.9,457.6 1049.9,456.0 1053.9,454.0 1057.8,451.8 1061.7,449.7 1065.7,447.7 1069.7,445.7 1073.6,443.6 1077.5,441.7 1081.5,440.0 1085.6,438.7 1089.5,438.1 1093.4,438.0 1097.4,438.1 1101.4,438.1 1105.4,437.7 1109.4,436.8 1113.5,435.6 1117.5,434.3 1121.4,433.0 1125.2,431.8 1128.6,431.0 1131.9,430.3 1135.2,429.6 1138.2,428.8 1141.1,427.8 1143.2,426.7 1145.1,425.3 1147.0,423.9 1148.9,422.7 1151.0,421.9 1153.9,421.6 1157.1,421.9 1160.5,422.4 1163.8,422.8 1166.9,422.9 1169.6,422.5 1172.2,422.0 1174.8,421.4 1177.4,420.6 1180.0,419.9 1182.8,419.0 1185.6,418.1 1188.4,417.1 1191.2,416.0 1193.9,414.9 1196.3,413.8 1198.6,412.6 1200.9,411.4 1203.3,410.1 1205.8,409.0 1208.8,407.6 1211.9,406.3 1215.2,405.0 1218.4,403.9 1221.7,403.0 1224.9,402.6 1228.2,402.5 1231.5,402.5 1234.6,402.4 1237.5,402.0 1239.7,401.3 1241.7,400.3 1243.6,399.3 1245.5,398.4 1247.5,398.1 1249.4,398.4 1251.3,399.2 1253.3,400.1 1255.3,400.9 1257.4,401.0 1260.4,400.0 1263.6,397.9 1266.9,395.3 1270.1,392.9 1273.3,391.1 1275.7,390.2 1278.0,389.6 1280.4,389.1 1282.7,388.6 1285.2,388.1 1287.8,387.5 1290.5,386.8 1293.2,386.1 1296.1,385.6 1299.0,385.2 1302.8,385.0 1306.9,385.2 1311.1,385.5 1315.1,385.6 1318.9,385.2 1321.9,384.3 1324.7,383.1 1327.4,381.7 1330.0,380.4 1332.8,379.2 1335.6,378.3 1338.4,377.4 1341.2,376.6 1343.9,375.9 1346.7,375.2 1349.1,374.7 1351.4,374.3 1353.7,373.9 1356.1,373.6 1358.6,373.3 1361.6,373.0 1364.9,372.9 1368.2,372.8 1371.4,372.6 1374.4,372.3 1376.9,371.8 1379.3,371.1 1381.7,370.4 1384.0,369.8 1386.3,369.3 1388.7,369.0 1391.1,368.9 1393.5,368.8 1395.9,368.6 1398.3,368.3 1400.6,367.7 1402.9,366.9 1405.3,366.0 1407.7,365.1 1410.2,364.3 1413.2,363.4 1416.3,362.5 1419.5,361.6 1422.7,360.8 1426.0,360.4 1429.6,360.3 1433.2,360.5 1436.9,360.9 1440.4,361.3 1443.9,361.3 1446.8,361.2 1449.5,360.9 1452.2,360.6 1454.9,360.0 1457.8,359.4 1461.3,358.2 1464.9,356.6 1468.5,355.0 1472.1,353.5 1475.6,352.4 1478.5,351.9 1481.2,351.7 1483.8,351.5 1486.6,351.5 1489.5,351.4 1493.3,351.4 1497.2,351.5 1501.3,351.6 1505.4,351.7 1509.4,351.4 1513.3,350.9 1517.3,350.2 1521.3,349.3 1525.2,348.4 1529.2,347.5 1533.2,346.4 1537.1,345.3 1541.1,344.1 1545.1,343.1 1549.0,342.5 1553.1,342.4 1557.2,342.6 1561.4,343.0 1565.3,343.4 1568.9,343.5 1571.3,343.4 1573.4,343.3 1575.5,343.1 1577.6,342.9 1580.0,342.5 1583.7,341.8 1587.6,340.8 1591.8,339.7 1595.9,338.6 1599.8,337.5 1603.1,336.7 1606.1,335.7 1609.1,334.8 1612.3,334.1 1615.7,333.6 1620.8,333.4 1626.5,333.8 1632.3,334.3 1638.1,334.6 1643.5,334.6 1647.7,334.0 1651.8,333.2 1655.7,332.2 1659.6,331.3 1663.3,330.6 1666.6,330.3 1669.9,330.1 1673.0,330.0 1676.1,329.9 1679.2,329.6 1682.0,329.1 1684.8,328.3 1687.5,327.6 1690.3,327.0 1693.1,326.6 1696.2,326.8 1699.3,327.3 1702.5,328.0 1705.7,328.5 1709.0,328.6 1712.5,328.2 1716.1,327.4 1719.7,326.4 1723.3,325.4 1726.8,324.6 1730.0,324.1 1733.0,323.7 1736.1,323.3 1739.3,323.0 1742.7,322.7 1747.5,322.4 1752.6,322.1 1757.9,322.0 1763.2,321.8 1768.5,321.7 1773.7,321.6 1779.0,321.6 1784.3,321.6 1789.4,321.3 1794.3,320.7 1798.5,319.5 1802.6,317.8 1806.6,316.0 1810.4,314.6 1814.1,313.7 1817.0,313.7 1819.8,314.0 1822.5,314.6 1825.2,315.2 1828.0,315.7 1831.2,316.2 1834.5,316.6 1837.8,317.1 1840.9,317.4 1843.9,317.7 1846.0,317.8 1848.0,318.0 1849.9,318.0 1851.8,318.0 1853.8,317.7 1856.4,317.0 1859.0,316.0 1861.7,314.9 1864.6,313.7 1867.7,312.7 1872.3,311.6 1877.5,310.6 1882.8,309.7 1888.3,309.1 1893.5,308.8 1898.4,309.1 1903.3,309.9 1908.2,310.9 1912.9,311.6 1917.3,311.7 1920.7,311.3 1924.0,310.5 1927.1,309.5 1930.2,308.6 1933.2,307.8 1935.6,307.3 1938.0,306.9 1940.3,306.6 1942.7,306.2 1945.1,305.8 1947.8,305.1 1950.5,304.3 1953.3,303.5 1956.1,303.0 1959.0,302.8 1962.2,303.4 1965.5,304.5 1968.7,305.9 1971.9,307.1 1974.8,307.8 1976.8,307.9 1978.5,307.9 1980.2,307.7 1982.0,307.5 1983.9,307.2 1986.9,306.8 1990.0,306.2 1993.3,305.5 1996.6,304.8 1999.9,304.1"/>
</g>
<g fill="none" stroke="#000" stroke-width="11" stroke-linejoin="round" stroke-linecap="round" clip-path="url(#pc)">
<polyline points="329.3,1602.0 357.7,1602.0"/>
<polyline points="399.0,1601.3 401.2,1601.2 403.5,1601.1 405.8,1601.0 408.0,1600.6 410.3,1599.9 412.5,1598.9 414.8,1598.0 417.0,1597.4 419.1,1597.3 421.2,1597.5 423.3,1597.8 425.4,1598.0"/>
<polyline points="463.7,1591.3 465.9,1590.9 468.2,1590.5 470.4,1590.1 472.6,1589.7 474.6,1589.1 476.5,1588.4 478.5,1587.7 480.6,1587.3 483.1,1587.2 485.9,1587.5 488.7,1587.8 491.5,1588.1"/>
<polyline points="532.1,1591.7 534.7,1591.8 537.2,1592.0 539.7,1592.1 542.1,1591.7 544.2,1590.6 546.1,1589.0 548.0,1587.3 550.0,1585.7 552.2,1584.4 554.4,1583.2 556.7,1582.0 558.9,1580.8"/>
<polyline points="598.6,1586.7 601.4,1586.2 604.1,1585.8 606.8,1585.3 609.5,1584.7 612.1,1583.9 614.6,1582.9 617.1,1582.0 619.4,1581.7 621.3,1582.1 623.0,1582.9 624.7,1583.9 626.4,1584.7"/>
<polyline points="662.1,1581.3 663.3,1582.6 664.4,1583.9 665.6,1585.1 667.1,1585.7 669.2,1585.4 671.7,1584.2 674.3,1582.7 677.0,1581.7 679.6,1581.4 682.4,1581.3 685.1,1581.4 687.9,1581.3"/>
<polyline points="725.8,1573.4 728.3,1575.1 730.8,1577.0 733.2,1578.5 735.7,1579.3 737.9,1579.0 740.0,1577.9 742.2,1576.8 744.4,1576.0 746.3,1575.9 748.2,1576.0 750.1,1576.3 752.0,1576.5"/>
<polyline points="790.7,1574.9 793.6,1574.4 796.6,1573.9 799.5,1573.4 802.2,1572.8 804.5,1571.9 806.7,1570.8 808.8,1569.9 810.9,1569.5 812.9,1569.8 814.8,1570.4 816.7,1571.3 818.6,1572.1"/>
<polyline points="855.7,1574.9 858.7,1573.8 861.8,1572.8 864.8,1571.7 867.7,1570.6 870.0,1569.4 872.3,1568.1 874.4,1567.0 876.4,1566.6 878.0,1567.0 879.6,1567.9 881.0,1569.0 882.5,1569.9"/>
<polyline points="920.5,1578.2 922.5,1576.2 924.6,1574.0 926.6,1572.0 928.8,1570.6 930.9,1569.9 933.1,1569.5 935.3,1569.4 937.5,1569.0 939.8,1568.5 942.1,1568.0 944.4,1567.4 946.7,1566.9"/>
<polyline points="978.6,1569.9 980.0,1570.9 981.4,1572.1 982.9,1573.0 984.5,1573.4 986.8,1572.8 989.3,1571.3 991.9,1569.7 994.3,1568.4 996.0,1567.7 997.7,1567.2 999.3,1566.8 1000.8,1566.9 1002.1,1567.3 1003.3,1568.1 1004.4,1569.1 1005.6,1569.9"/>
<polyline points="1041.6,1561.2 1042.9,1561.5 1044.1,1561.7 1045.3,1562.1 1046.7,1562.5 1048.7,1563.5 1050.9,1564.8 1053.1,1566.1 1055.4,1566.9 1057.6,1566.9 1059.8,1566.5 1062.1,1566.0 1064.1,1565.8 1065.6,1565.8 1066.9,1565.9 1068.2,1566.1 1069.6,1566.2"/>
<polyline points="1107.8,1559.7 1109.9,1558.3 1112.1,1556.8 1114.3,1555.6 1116.5,1554.6 1118.4,1554.2 1120.4,1554.0 1122.3,1554.0 1124.4,1554.2 1127.0,1554.9 1129.7,1556.0 1132.5,1557.4 1135.3,1558.6"/>
<polyline points="1174.6,1562.5 1177.3,1560.8 1180.1,1558.9 1182.8,1557.3 1185.5,1556.4 1187.7,1556.3 1189.9,1556.7 1192.0,1557.2 1194.2,1557.5 1196.4,1557.4 1198.6,1557.1 1200.8,1556.7 1202.9,1556.4"/>
<polyline points="1240.5,1562.5 1243.7,1561.8 1246.9,1561.0 1250.0,1560.3 1253.1,1559.7 1256.0,1559.1 1258.8,1558.5 1261.5,1558.0 1264.0,1557.5 1265.8,1557.2 1267.4,1556.9 1269.0,1556.6 1270.6,1556.4"/>
<polyline points="1307.3,1558.1 1309.5,1558.9 1311.8,1559.8 1314.1,1560.5 1316.4,1561.2 1318.8,1561.8 1321.3,1562.3 1323.8,1562.6 1326.2,1562.5 1328.7,1561.7 1331.2,1560.4 1333.6,1558.9 1336.1,1557.5"/>
<polyline points="1373.2,1555.9 1377.1,1557.3 1381.1,1558.7 1385.0,1559.9 1388.4,1560.3 1390.6,1559.9 1392.5,1558.9 1394.3,1558.0 1396.1,1557.5 1397.7,1557.5 1399.4,1557.8 1401.0,1558.2 1402.6,1558.6"/>
<polyline points="1434.3,1553.1 1437.6,1554.2 1440.9,1555.4 1444.2,1556.3 1447.4,1556.8 1450.3,1556.5 1453.1,1555.6 1455.9,1554.8 1458.3,1554.6 1459.8,1555.1 1461.1,1555.8 1462.4,1556.7 1463.7,1557.5"/>
<polyline points="1493.2,1555.3 1495.9,1555.9 1498.7,1556.7 1501.4,1557.2 1504.1,1557.5 1506.9,1557.2 1509.7,1556.7 1512.4,1556.0 1515.0,1555.3 1517.0,1554.8 1518.9,1554.2 1520.8,1553.7 1522.7,1553.1"/>
<polyline points="1558.8,1559.4 1562.4,1558.4 1566.0,1557.3 1569.5,1556.3 1573.1,1555.3 1576.5,1554.4 1579.9,1553.6 1583.3,1552.8 1586.6,1552.0"/>
<polyline points="1623.3,1558.1 1626.0,1557.8 1628.8,1557.5 1631.5,1557.1 1634.2,1556.4 1637.0,1555.0 1639.8,1553.1 1642.5,1551.3 1645.1,1550.3 1646.9,1550.1 1648.7,1550.3 1650.4,1550.7 1652.1,1550.9"/>
<polyline points="1689.2,1553.1 1691.3,1553.8 1693.3,1554.7 1695.4,1555.3 1697.5,1555.3 1700.2,1554.0 1703.0,1551.6 1705.7,1549.2 1708.4,1548.1 1710.5,1548.4 1712.6,1549.5 1714.6,1550.8 1716.7,1552.0"/>
<polyline points="1755.3,1549.8 1757.8,1548.9 1760.2,1547.9 1762.6,1547.1 1765.2,1546.6 1767.9,1546.5 1770.7,1546.8 1773.5,1547.4 1776.1,1548.1 1778.3,1549.0 1780.3,1550.1 1782.3,1551.3 1784.4,1552.5"/>
<polyline points="1819.3,1546.6 1822.1,1546.0 1824.9,1545.4 1827.8,1545.0 1830.6,1545.0 1834.0,1546.0 1837.5,1547.7 1840.8,1549.3 1843.7,1550.3 1845.2,1550.4 1846.6,1550.2 1847.9,1550.0 1849.2,1549.8"/>
<polyline points="1886.3,1546.6 1888.4,1544.7 1890.6,1542.6 1892.8,1540.8 1895.0,1540.0 1897.4,1540.5 1899.9,1542.0 1902.4,1543.8 1904.8,1545.0 1907.0,1545.6 1909.2,1546.0 1911.4,1546.2 1913.6,1546.6"/>
<polyline points="1952.4,1548.1 1955.5,1546.9 1958.7,1545.5 1961.8,1544.4 1964.8,1543.7 1967.4,1543.7 1969.9,1544.1 1972.3,1544.7 1974.7,1545.0 1976.8,1545.2 1978.9,1545.3 1980.9,1545.4 1983.0,1545.5"/>
</g>
<g>
<path fill="#00FF00" d="M656.0 285.0H667.0V545.0H677.0L661.5 577.0L646.0 545.0H656.0Z"/>
<path fill="#FFC000" d="M807.0 239.0H819.0V514.0H828.5L813.0 545.5L797.5 514.0H807.0Z"/>
<path fill="#00B0F0" d="M1037.0 207.0H1048.0V327.3H1058.0L1042.5 358.6L1027.0 327.3H1037.0Z"/>
<path fill="#FF0000" d="M1606.0 182.0H1617.0V339.5H1627.0L1611.5 370.8L1596.0 339.5H1606.0Z"/>
<path fill="#000000" d="M1136.0 450.0H1147.0V533.0H1157.0L1141.5 564.0L1126.0 533.0H1136.0Z"/>
<path fill="#A66500" d="M1754.0 747.0H1765.0V651.0H1775.0L1759.5 619.5L1744.0 651.0H1754.0Z"/>
<path fill="#00B050" d="M1423.0 910.0H1434.0V821.0H1444.0L1428.5 789.5L1413.0 821.0H1423.0Z"/>
<path fill="#FF00FF" d="M645.0 978.0H656.0V1082.0H666.0L650.5 1113.5L635.0 1082.0H645.0Z"/>
<rect x="1481.0" y="1359.0" width="4.8" height="147.2" fill="#000000"/>
<rect x="1490.2" y="1359.0" width="4.8" height="147.2" fill="#000000"/>
<path fill="#000000" d="M1468.7 1505.2L1507.1 1505.2L1487.9 1544.0Z"/>
</g>
<g text-rendering="geometricPrecision">
<text font-size="72.2" stroke="#000" stroke-width="0.50" transform="translate(206.54 1625.00)">0</text>
<text font-size="72.2" stroke="#000" stroke-width="0.50" transform="translate(166.38 1367.00)">10</text>
<text font-size="72.2" stroke="#000" stroke-width="0.50" transform="translate(166.38 1109.00)">20</text>
<text font-size="72.2" stroke="#000" stroke-width="0.50" transform="translate(166.38 851.00)">30</text>
<text font-size="72.2" stroke="#000" stroke-width="0.50" transform="translate(166.38 593.00)">40</text>
<text font-size="72.2" stroke="#000" stroke-width="0.50" transform="translate(166.38 335.00)">50</text>
<text font-size="72.2" stroke="#000" stroke-width="0.50" transform="translate(166.38 77.00)">60</text>
<text font-size="72.2" stroke="#000" stroke-width="0.50" transform="translate(300.72 1729.00)">0</text>
<text font-size="72.2" stroke="#000" stroke-width="0.50" transform="translate(699.64 1729.00)">50</text>
<text font-size="72.2" stroke="#000" stroke-width="0.50" transform="translate(1098.56 1729.00)">100</text>
<text font-size="72.2" stroke="#000" stroke-width="0.50" transform="translate(1517.56 1729.00)">150</text>
<text font-size="72.2" stroke="#000" stroke-width="0.50" transform="translate(1936.56 1729.00)">200</text>
<text class="b" font-size="81.0" transform="translate(969.95 1831.50) scale(0.9496 1.0000)">Time [s]</text>
<text class="b" font-size="81.0" transform="translate(84.10 1037.59) rotate(-90) scale(0.9208 1.0000)">Conversion [%]</text>
<text class="b" font-size="81.0" transform="translate(1315.59 1333.80) scale(0.9471 1.0000)">Reference</text>
<text class="b" font-size="81.0" transform="translate(680.92 344.14) scale(0.8637 1.0117)">S6</text>
<text class="b" font-size="81.0" transform="translate(833.06 303.14) scale(0.8615 1.0122)">S8</text>
<text class="b" font-size="81.0" transform="translate(1056.98 270.19) scale(0.8528 1.0122)">S4</text>
<text class="b" font-size="81.0" transform="translate(1622.07 242.14) scale(0.8579 1.0114)">S7</text>
<text class="b" font-size="81.0" transform="translate(1153.10 506.14) scale(0.8466 1.0119)">S1</text>
<text class="b" font-size="81.0" transform="translate(1778.09 752.79) scale(0.8511 1.0075)">S3</text>
<text class="b" font-size="81.0" transform="translate(1448.06 902.10) scale(0.8628 1.0124)">S6</text>
<text class="b" font-size="81.0" transform="translate(555.91 1045.11) scale(0.8675 1.0119)">S2</text>
</g>
</svg>
</body>
</html>
